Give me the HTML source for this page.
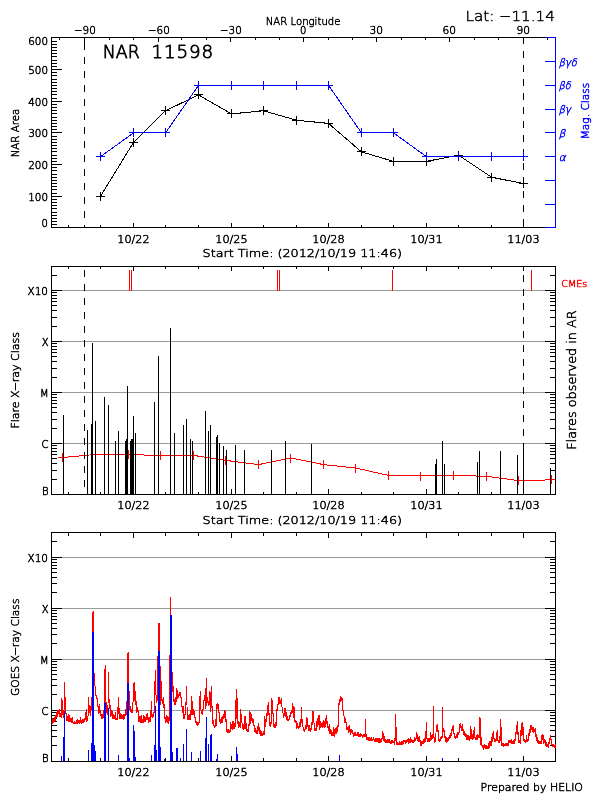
<!DOCTYPE html>
<html lang="en"><head><meta charset="utf-8"><title>NAR 11598</title>
<style>
html,body{margin:0;padding:0;background:#fff;}
svg{display:block}
text{font-family:"DejaVu Sans Light","DejaVu Sans","Liberation Sans",sans-serif;stroke-linejoin:round}
</style></head>
<body>
<svg width="600" height="800" viewBox="0 0 600 800">
<rect x="0" y="0" width="600" height="800" fill="#ffffff"/>
<g shape-rendering="crispEdges">
<rect x="51" y="37" width="495" height="1" fill="#000000"/>
<rect x="545" y="37" width="11" height="1" fill="#0000ff"/>
<rect x="51" y="227" width="505" height="1" fill="#000000"/>
<rect x="51" y="37" width="1" height="191" fill="#000000"/>
<rect x="555" y="37" width="1" height="191" fill="#0000ff"/>
<rect x="51" y="227" width="11" height="1" fill="#000000"/>
<rect x="51" y="224" width="6" height="1" fill="#000000"/>
<rect x="51" y="221" width="6" height="1" fill="#000000"/>
<rect x="51" y="218" width="6" height="1" fill="#000000"/>
<rect x="51" y="215" width="6" height="1" fill="#000000"/>
<rect x="51" y="212" width="6" height="1" fill="#000000"/>
<rect x="51" y="208" width="6" height="1" fill="#000000"/>
<rect x="51" y="205" width="6" height="1" fill="#000000"/>
<rect x="51" y="202" width="6" height="1" fill="#000000"/>
<rect x="51" y="199" width="6" height="1" fill="#000000"/>
<rect x="51" y="196" width="11" height="1" fill="#000000"/>
<rect x="51" y="193" width="6" height="1" fill="#000000"/>
<rect x="51" y="189" width="6" height="1" fill="#000000"/>
<rect x="51" y="186" width="6" height="1" fill="#000000"/>
<rect x="51" y="183" width="6" height="1" fill="#000000"/>
<rect x="51" y="180" width="6" height="1" fill="#000000"/>
<rect x="51" y="177" width="6" height="1" fill="#000000"/>
<rect x="51" y="174" width="6" height="1" fill="#000000"/>
<rect x="51" y="170" width="6" height="1" fill="#000000"/>
<rect x="51" y="167" width="6" height="1" fill="#000000"/>
<rect x="51" y="164" width="11" height="1" fill="#000000"/>
<rect x="51" y="161" width="6" height="1" fill="#000000"/>
<rect x="51" y="158" width="6" height="1" fill="#000000"/>
<rect x="51" y="155" width="6" height="1" fill="#000000"/>
<rect x="51" y="151" width="6" height="1" fill="#000000"/>
<rect x="51" y="148" width="6" height="1" fill="#000000"/>
<rect x="51" y="145" width="6" height="1" fill="#000000"/>
<rect x="51" y="142" width="6" height="1" fill="#000000"/>
<rect x="51" y="139" width="6" height="1" fill="#000000"/>
<rect x="51" y="136" width="6" height="1" fill="#000000"/>
<rect x="51" y="132" width="11" height="1" fill="#000000"/>
<rect x="51" y="129" width="6" height="1" fill="#000000"/>
<rect x="51" y="126" width="6" height="1" fill="#000000"/>
<rect x="51" y="123" width="6" height="1" fill="#000000"/>
<rect x="51" y="120" width="6" height="1" fill="#000000"/>
<rect x="51" y="117" width="6" height="1" fill="#000000"/>
<rect x="51" y="113" width="6" height="1" fill="#000000"/>
<rect x="51" y="110" width="6" height="1" fill="#000000"/>
<rect x="51" y="107" width="6" height="1" fill="#000000"/>
<rect x="51" y="104" width="6" height="1" fill="#000000"/>
<rect x="51" y="101" width="11" height="1" fill="#000000"/>
<rect x="51" y="98" width="6" height="1" fill="#000000"/>
<rect x="51" y="94" width="6" height="1" fill="#000000"/>
<rect x="51" y="91" width="6" height="1" fill="#000000"/>
<rect x="51" y="88" width="6" height="1" fill="#000000"/>
<rect x="51" y="85" width="6" height="1" fill="#000000"/>
<rect x="51" y="82" width="6" height="1" fill="#000000"/>
<rect x="51" y="79" width="6" height="1" fill="#000000"/>
<rect x="51" y="75" width="6" height="1" fill="#000000"/>
<rect x="51" y="72" width="6" height="1" fill="#000000"/>
<rect x="51" y="69" width="11" height="1" fill="#000000"/>
<rect x="51" y="66" width="6" height="1" fill="#000000"/>
<rect x="51" y="63" width="6" height="1" fill="#000000"/>
<rect x="51" y="60" width="6" height="1" fill="#000000"/>
<rect x="51" y="56" width="6" height="1" fill="#000000"/>
<rect x="51" y="53" width="6" height="1" fill="#000000"/>
<rect x="51" y="50" width="6" height="1" fill="#000000"/>
<rect x="51" y="47" width="6" height="1" fill="#000000"/>
<rect x="51" y="44" width="6" height="1" fill="#000000"/>
<rect x="51" y="41" width="6" height="1" fill="#000000"/>
<rect x="51" y="37" width="11" height="1" fill="#000000"/>
<rect x="545" y="227" width="11" height="1" fill="#0000ff"/>
<rect x="545" y="204" width="11" height="1" fill="#0000ff"/>
<rect x="545" y="180" width="11" height="1" fill="#0000ff"/>
<rect x="545" y="156" width="11" height="1" fill="#0000ff"/>
<rect x="545" y="132" width="11" height="1" fill="#0000ff"/>
<rect x="545" y="109" width="11" height="1" fill="#0000ff"/>
<rect x="545" y="85" width="11" height="1" fill="#0000ff"/>
<rect x="545" y="61" width="11" height="1" fill="#0000ff"/>
<rect x="545" y="37" width="11" height="1" fill="#0000ff"/>
<rect x="59" y="37" width="1" height="3" fill="#000000"/>
<rect x="84" y="37" width="1" height="5" fill="#000000"/>
<rect x="109" y="37" width="1" height="3" fill="#000000"/>
<rect x="133" y="37" width="1" height="3" fill="#000000"/>
<rect x="158" y="37" width="1" height="5" fill="#000000"/>
<rect x="181" y="37" width="1" height="3" fill="#000000"/>
<rect x="206" y="37" width="1" height="3" fill="#000000"/>
<rect x="230" y="37" width="1" height="5" fill="#000000"/>
<rect x="255" y="37" width="1" height="3" fill="#000000"/>
<rect x="279" y="37" width="1" height="3" fill="#000000"/>
<rect x="303" y="37" width="1" height="5" fill="#000000"/>
<rect x="328" y="37" width="1" height="3" fill="#000000"/>
<rect x="352" y="37" width="1" height="3" fill="#000000"/>
<rect x="376" y="37" width="1" height="5" fill="#000000"/>
<rect x="401" y="37" width="1" height="3" fill="#000000"/>
<rect x="425" y="37" width="1" height="3" fill="#000000"/>
<rect x="449" y="37" width="1" height="5" fill="#000000"/>
<rect x="474" y="37" width="1" height="3" fill="#000000"/>
<rect x="498" y="37" width="1" height="3" fill="#000000"/>
<rect x="523" y="37" width="1" height="5" fill="#000000"/>
<rect x="547" y="37" width="1" height="3" fill="#000000"/>
<rect x="68" y="225" width="1" height="3" fill="#000000"/>
<rect x="100" y="225" width="1" height="3" fill="#000000"/>
<rect x="133" y="223" width="1" height="5" fill="#000000"/>
<rect x="165" y="225" width="1" height="3" fill="#000000"/>
<rect x="198" y="225" width="1" height="3" fill="#000000"/>
<rect x="231" y="223" width="1" height="5" fill="#000000"/>
<rect x="263" y="225" width="1" height="3" fill="#000000"/>
<rect x="296" y="225" width="1" height="3" fill="#000000"/>
<rect x="328" y="223" width="1" height="5" fill="#000000"/>
<rect x="361" y="225" width="1" height="3" fill="#000000"/>
<rect x="393" y="225" width="1" height="3" fill="#000000"/>
<rect x="426" y="223" width="1" height="5" fill="#000000"/>
<rect x="458" y="225" width="1" height="3" fill="#000000"/>
<rect x="491" y="225" width="1" height="3" fill="#000000"/>
<rect x="523" y="223" width="1" height="5" fill="#000000"/>
<rect x="84" y="43" width="1" height="7" fill="#000000"/>
<rect x="84" y="57" width="1" height="7" fill="#000000"/>
<rect x="84" y="71" width="1" height="7" fill="#000000"/>
<rect x="84" y="85" width="1" height="7" fill="#000000"/>
<rect x="84" y="99" width="1" height="7" fill="#000000"/>
<rect x="84" y="113" width="1" height="7" fill="#000000"/>
<rect x="84" y="127" width="1" height="7" fill="#000000"/>
<rect x="84" y="141" width="1" height="7" fill="#000000"/>
<rect x="84" y="155" width="1" height="7" fill="#000000"/>
<rect x="84" y="169" width="1" height="7" fill="#000000"/>
<rect x="84" y="183" width="1" height="7" fill="#000000"/>
<rect x="84" y="197" width="1" height="7" fill="#000000"/>
<rect x="84" y="211" width="1" height="7" fill="#000000"/>
<rect x="84" y="225" width="1" height="3" fill="#000000"/>
<rect x="523" y="37" width="1" height="7" fill="#000000"/>
<rect x="523" y="51" width="1" height="7" fill="#000000"/>
<rect x="523" y="65" width="1" height="7" fill="#000000"/>
<rect x="523" y="79" width="1" height="7" fill="#000000"/>
<rect x="523" y="93" width="1" height="7" fill="#000000"/>
<rect x="523" y="107" width="1" height="7" fill="#000000"/>
<rect x="523" y="121" width="1" height="7" fill="#000000"/>
<rect x="523" y="135" width="1" height="7" fill="#000000"/>
<rect x="523" y="149" width="1" height="7" fill="#000000"/>
<rect x="523" y="163" width="1" height="7" fill="#000000"/>
<rect x="523" y="177" width="1" height="7" fill="#000000"/>
<rect x="523" y="191" width="1" height="7" fill="#000000"/>
<rect x="523" y="205" width="1" height="7" fill="#000000"/>
<rect x="523" y="219" width="1" height="7" fill="#000000"/>
<rect x="84" y="37" width="1" height="6" fill="#000000"/>
<rect x="523" y="37" width="1" height="6" fill="#000000"/>
<polyline points="100.50,196.23 133.50,142.40 165.50,110.73 198.50,94.90 231.50,113.90 263.50,110.73 296.50,120.23 328.50,123.40 361.50,151.90 393.50,161.40 426.50,161.40 458.50,155.07 491.50,177.23 523.50,183.57" fill="none" stroke="#000000" stroke-width="1"/>
<rect x="96" y="196" width="9" height="1" fill="#000000"/>
<rect x="100" y="192" width="1" height="9" fill="#000000"/>
<rect x="129" y="142" width="9" height="1" fill="#000000"/>
<rect x="133" y="138" width="1" height="9" fill="#000000"/>
<rect x="161" y="110" width="9" height="1" fill="#000000"/>
<rect x="165" y="106" width="1" height="9" fill="#000000"/>
<rect x="194" y="94" width="9" height="1" fill="#000000"/>
<rect x="198" y="90" width="1" height="9" fill="#000000"/>
<rect x="227" y="113" width="9" height="1" fill="#000000"/>
<rect x="231" y="109" width="1" height="9" fill="#000000"/>
<rect x="259" y="110" width="9" height="1" fill="#000000"/>
<rect x="263" y="106" width="1" height="9" fill="#000000"/>
<rect x="292" y="120" width="9" height="1" fill="#000000"/>
<rect x="296" y="116" width="1" height="9" fill="#000000"/>
<rect x="324" y="123" width="9" height="1" fill="#000000"/>
<rect x="328" y="119" width="1" height="9" fill="#000000"/>
<rect x="357" y="151" width="9" height="1" fill="#000000"/>
<rect x="361" y="147" width="1" height="9" fill="#000000"/>
<rect x="389" y="161" width="9" height="1" fill="#000000"/>
<rect x="393" y="157" width="1" height="9" fill="#000000"/>
<rect x="422" y="161" width="9" height="1" fill="#000000"/>
<rect x="426" y="157" width="1" height="9" fill="#000000"/>
<rect x="454" y="155" width="9" height="1" fill="#000000"/>
<rect x="458" y="151" width="1" height="9" fill="#000000"/>
<rect x="487" y="177" width="9" height="1" fill="#000000"/>
<rect x="491" y="173" width="1" height="9" fill="#000000"/>
<rect x="519" y="183" width="9" height="1" fill="#000000"/>
<rect x="523" y="179" width="1" height="9" fill="#000000"/>
<polyline points="100.50,156.65 133.50,132.90 165.50,132.90 198.50,85.40 231.50,85.40 263.50,85.40 296.50,85.40 328.50,85.40 361.50,132.90 393.50,132.90 426.50,156.65 458.50,156.65 491.50,156.65 523.50,156.65" fill="none" stroke="#0000ff" stroke-width="1"/>
<rect x="96" y="156" width="9" height="1" fill="#0000ff"/>
<rect x="100" y="152" width="1" height="9" fill="#0000ff"/>
<rect x="129" y="132" width="9" height="1" fill="#0000ff"/>
<rect x="133" y="128" width="1" height="9" fill="#0000ff"/>
<rect x="161" y="132" width="9" height="1" fill="#0000ff"/>
<rect x="165" y="128" width="1" height="9" fill="#0000ff"/>
<rect x="194" y="85" width="9" height="1" fill="#0000ff"/>
<rect x="198" y="81" width="1" height="9" fill="#0000ff"/>
<rect x="227" y="85" width="9" height="1" fill="#0000ff"/>
<rect x="231" y="81" width="1" height="9" fill="#0000ff"/>
<rect x="259" y="85" width="9" height="1" fill="#0000ff"/>
<rect x="263" y="81" width="1" height="9" fill="#0000ff"/>
<rect x="292" y="85" width="9" height="1" fill="#0000ff"/>
<rect x="296" y="81" width="1" height="9" fill="#0000ff"/>
<rect x="324" y="85" width="9" height="1" fill="#0000ff"/>
<rect x="328" y="81" width="1" height="9" fill="#0000ff"/>
<rect x="357" y="132" width="9" height="1" fill="#0000ff"/>
<rect x="361" y="128" width="1" height="9" fill="#0000ff"/>
<rect x="389" y="132" width="9" height="1" fill="#0000ff"/>
<rect x="393" y="128" width="1" height="9" fill="#0000ff"/>
<rect x="422" y="156" width="9" height="1" fill="#0000ff"/>
<rect x="426" y="152" width="1" height="9" fill="#0000ff"/>
<rect x="454" y="156" width="9" height="1" fill="#0000ff"/>
<rect x="458" y="152" width="1" height="9" fill="#0000ff"/>
<rect x="487" y="156" width="9" height="1" fill="#0000ff"/>
<rect x="491" y="152" width="1" height="9" fill="#0000ff"/>
<rect x="519" y="156" width="9" height="1" fill="#0000ff"/>
<rect x="523" y="152" width="1" height="9" fill="#0000ff"/>
<rect x="51" y="266" width="505" height="1" fill="#000000"/>
<rect x="51" y="494" width="505" height="1" fill="#000000"/>
<rect x="51" y="266" width="1" height="229" fill="#000000"/>
<rect x="555" y="266" width="1" height="229" fill="#000000"/>
<rect x="51" y="479" width="6" height="1" fill="#000000"/>
<rect x="550" y="479" width="6" height="1" fill="#000000"/>
<rect x="51" y="470" width="6" height="1" fill="#000000"/>
<rect x="550" y="470" width="6" height="1" fill="#000000"/>
<rect x="51" y="463" width="6" height="1" fill="#000000"/>
<rect x="550" y="463" width="6" height="1" fill="#000000"/>
<rect x="51" y="458" width="6" height="1" fill="#000000"/>
<rect x="550" y="458" width="6" height="1" fill="#000000"/>
<rect x="51" y="454" width="6" height="1" fill="#000000"/>
<rect x="550" y="454" width="6" height="1" fill="#000000"/>
<rect x="51" y="451" width="6" height="1" fill="#000000"/>
<rect x="550" y="451" width="6" height="1" fill="#000000"/>
<rect x="51" y="448" width="6" height="1" fill="#000000"/>
<rect x="550" y="448" width="6" height="1" fill="#000000"/>
<rect x="51" y="445" width="6" height="1" fill="#000000"/>
<rect x="550" y="445" width="6" height="1" fill="#000000"/>
<rect x="62" y="443" width="483" height="1" fill="#9a9a9a"/>
<rect x="51" y="443" width="11" height="1" fill="#000000"/>
<rect x="545" y="443" width="11" height="1" fill="#000000"/>
<rect x="51" y="428" width="6" height="1" fill="#000000"/>
<rect x="550" y="428" width="6" height="1" fill="#000000"/>
<rect x="51" y="419" width="6" height="1" fill="#000000"/>
<rect x="550" y="419" width="6" height="1" fill="#000000"/>
<rect x="51" y="412" width="6" height="1" fill="#000000"/>
<rect x="550" y="412" width="6" height="1" fill="#000000"/>
<rect x="51" y="407" width="6" height="1" fill="#000000"/>
<rect x="550" y="407" width="6" height="1" fill="#000000"/>
<rect x="51" y="403" width="6" height="1" fill="#000000"/>
<rect x="550" y="403" width="6" height="1" fill="#000000"/>
<rect x="51" y="400" width="6" height="1" fill="#000000"/>
<rect x="550" y="400" width="6" height="1" fill="#000000"/>
<rect x="51" y="397" width="6" height="1" fill="#000000"/>
<rect x="550" y="397" width="6" height="1" fill="#000000"/>
<rect x="51" y="394" width="6" height="1" fill="#000000"/>
<rect x="550" y="394" width="6" height="1" fill="#000000"/>
<rect x="62" y="392" width="483" height="1" fill="#9a9a9a"/>
<rect x="51" y="392" width="11" height="1" fill="#000000"/>
<rect x="545" y="392" width="11" height="1" fill="#000000"/>
<rect x="51" y="377" width="6" height="1" fill="#000000"/>
<rect x="550" y="377" width="6" height="1" fill="#000000"/>
<rect x="51" y="368" width="6" height="1" fill="#000000"/>
<rect x="550" y="368" width="6" height="1" fill="#000000"/>
<rect x="51" y="361" width="6" height="1" fill="#000000"/>
<rect x="550" y="361" width="6" height="1" fill="#000000"/>
<rect x="51" y="356" width="6" height="1" fill="#000000"/>
<rect x="550" y="356" width="6" height="1" fill="#000000"/>
<rect x="51" y="352" width="6" height="1" fill="#000000"/>
<rect x="550" y="352" width="6" height="1" fill="#000000"/>
<rect x="51" y="349" width="6" height="1" fill="#000000"/>
<rect x="550" y="349" width="6" height="1" fill="#000000"/>
<rect x="51" y="346" width="6" height="1" fill="#000000"/>
<rect x="550" y="346" width="6" height="1" fill="#000000"/>
<rect x="51" y="343" width="6" height="1" fill="#000000"/>
<rect x="550" y="343" width="6" height="1" fill="#000000"/>
<rect x="62" y="341" width="483" height="1" fill="#9a9a9a"/>
<rect x="51" y="341" width="11" height="1" fill="#000000"/>
<rect x="545" y="341" width="11" height="1" fill="#000000"/>
<rect x="51" y="326" width="6" height="1" fill="#000000"/>
<rect x="550" y="326" width="6" height="1" fill="#000000"/>
<rect x="51" y="317" width="6" height="1" fill="#000000"/>
<rect x="550" y="317" width="6" height="1" fill="#000000"/>
<rect x="51" y="310" width="6" height="1" fill="#000000"/>
<rect x="550" y="310" width="6" height="1" fill="#000000"/>
<rect x="51" y="305" width="6" height="1" fill="#000000"/>
<rect x="550" y="305" width="6" height="1" fill="#000000"/>
<rect x="51" y="301" width="6" height="1" fill="#000000"/>
<rect x="550" y="301" width="6" height="1" fill="#000000"/>
<rect x="51" y="298" width="6" height="1" fill="#000000"/>
<rect x="550" y="298" width="6" height="1" fill="#000000"/>
<rect x="51" y="295" width="6" height="1" fill="#000000"/>
<rect x="550" y="295" width="6" height="1" fill="#000000"/>
<rect x="51" y="292" width="6" height="1" fill="#000000"/>
<rect x="550" y="292" width="6" height="1" fill="#000000"/>
<rect x="62" y="290" width="483" height="1" fill="#9a9a9a"/>
<rect x="51" y="290" width="11" height="1" fill="#000000"/>
<rect x="545" y="290" width="11" height="1" fill="#000000"/>
<rect x="51" y="275" width="6" height="1" fill="#000000"/>
<rect x="550" y="275" width="6" height="1" fill="#000000"/>
<rect x="68" y="492" width="1" height="3" fill="#000000"/>
<rect x="68" y="266" width="1" height="3" fill="#000000"/>
<rect x="100" y="492" width="1" height="3" fill="#000000"/>
<rect x="100" y="266" width="1" height="3" fill="#000000"/>
<rect x="133" y="489" width="1" height="6" fill="#000000"/>
<rect x="133" y="266" width="1" height="5" fill="#000000"/>
<rect x="165" y="492" width="1" height="3" fill="#000000"/>
<rect x="165" y="266" width="1" height="3" fill="#000000"/>
<rect x="198" y="492" width="1" height="3" fill="#000000"/>
<rect x="198" y="266" width="1" height="3" fill="#000000"/>
<rect x="231" y="489" width="1" height="6" fill="#000000"/>
<rect x="231" y="266" width="1" height="5" fill="#000000"/>
<rect x="263" y="492" width="1" height="3" fill="#000000"/>
<rect x="263" y="266" width="1" height="3" fill="#000000"/>
<rect x="296" y="492" width="1" height="3" fill="#000000"/>
<rect x="296" y="266" width="1" height="3" fill="#000000"/>
<rect x="328" y="489" width="1" height="6" fill="#000000"/>
<rect x="328" y="266" width="1" height="5" fill="#000000"/>
<rect x="361" y="492" width="1" height="3" fill="#000000"/>
<rect x="361" y="266" width="1" height="3" fill="#000000"/>
<rect x="393" y="492" width="1" height="3" fill="#000000"/>
<rect x="393" y="266" width="1" height="3" fill="#000000"/>
<rect x="426" y="489" width="1" height="6" fill="#000000"/>
<rect x="426" y="266" width="1" height="5" fill="#000000"/>
<rect x="458" y="492" width="1" height="3" fill="#000000"/>
<rect x="458" y="266" width="1" height="3" fill="#000000"/>
<rect x="491" y="492" width="1" height="3" fill="#000000"/>
<rect x="491" y="266" width="1" height="3" fill="#000000"/>
<rect x="523" y="489" width="1" height="6" fill="#000000"/>
<rect x="523" y="266" width="1" height="5" fill="#000000"/>
<polyline points="58.00,457.90 95.40,454.47 128.00,454.50 143.40,454.50 144.40,455.50 160.50,455.50 193.50,455.50 196.80,455.90 225.80,460.40 258.60,464.60 290.80,458.00 323.50,464.60 355.80,468.00 388.40,475.40 420.60,476.00 453.50,475.60 486.00,476.20 518.40,480.60 534.70,480.60 551.60,479.60 555.00,479.60" fill="none" stroke="#ff0000" stroke-width="1"/>
<rect x="62" y="453" width="1" height="9" fill="#ff0000"/>
<rect x="95" y="450" width="1" height="9" fill="#ff0000"/>
<rect x="128" y="450" width="1" height="9" fill="#ff0000"/>
<rect x="160" y="451" width="1" height="9" fill="#ff0000"/>
<rect x="193" y="451" width="1" height="9" fill="#ff0000"/>
<rect x="225" y="456" width="1" height="9" fill="#ff0000"/>
<rect x="258" y="460" width="1" height="9" fill="#ff0000"/>
<rect x="290" y="454" width="1" height="9" fill="#ff0000"/>
<rect x="323" y="460" width="1" height="9" fill="#ff0000"/>
<rect x="355" y="464" width="1" height="9" fill="#ff0000"/>
<rect x="388" y="471" width="1" height="9" fill="#ff0000"/>
<rect x="420" y="472" width="1" height="9" fill="#ff0000"/>
<rect x="453" y="471" width="1" height="9" fill="#ff0000"/>
<rect x="486" y="472" width="1" height="9" fill="#ff0000"/>
<rect x="518" y="476" width="1" height="9" fill="#ff0000"/>
<rect x="551" y="475" width="1" height="9" fill="#ff0000"/>
<rect x="129" y="270" width="1" height="21" fill="#ff0000"/>
<rect x="131" y="270" width="1" height="21" fill="#ff0000"/>
<rect x="277" y="270" width="1" height="21" fill="#ff0000"/>
<rect x="279" y="270" width="1" height="21" fill="#ff0000"/>
<rect x="392" y="270" width="1" height="21" fill="#ff0000"/>
<rect x="531" y="270" width="1" height="21" fill="#ff0000"/>
<rect x="84" y="270" width="1" height="7" fill="#000000"/>
<rect x="84" y="284" width="1" height="7" fill="#000000"/>
<rect x="84" y="298" width="1" height="7" fill="#000000"/>
<rect x="84" y="312" width="1" height="7" fill="#000000"/>
<rect x="84" y="326" width="1" height="7" fill="#000000"/>
<rect x="84" y="340" width="1" height="7" fill="#000000"/>
<rect x="84" y="354" width="1" height="7" fill="#000000"/>
<rect x="84" y="368" width="1" height="7" fill="#000000"/>
<rect x="84" y="382" width="1" height="7" fill="#000000"/>
<rect x="84" y="396" width="1" height="7" fill="#000000"/>
<rect x="84" y="410" width="1" height="7" fill="#000000"/>
<rect x="84" y="424" width="1" height="7" fill="#000000"/>
<rect x="84" y="438" width="1" height="7" fill="#000000"/>
<rect x="84" y="452" width="1" height="7" fill="#000000"/>
<rect x="84" y="466" width="1" height="7" fill="#000000"/>
<rect x="84" y="480" width="1" height="7" fill="#000000"/>
<rect x="84" y="494" width="1" height="1" fill="#000000"/>
<rect x="523" y="275" width="1" height="7" fill="#000000"/>
<rect x="523" y="289" width="1" height="7" fill="#000000"/>
<rect x="523" y="303" width="1" height="7" fill="#000000"/>
<rect x="523" y="317" width="1" height="7" fill="#000000"/>
<rect x="523" y="331" width="1" height="7" fill="#000000"/>
<rect x="523" y="345" width="1" height="7" fill="#000000"/>
<rect x="523" y="359" width="1" height="7" fill="#000000"/>
<rect x="523" y="373" width="1" height="7" fill="#000000"/>
<rect x="523" y="387" width="1" height="7" fill="#000000"/>
<rect x="523" y="401" width="1" height="7" fill="#000000"/>
<rect x="523" y="415" width="1" height="7" fill="#000000"/>
<rect x="523" y="429" width="1" height="7" fill="#000000"/>
<rect x="523" y="443" width="1" height="7" fill="#000000"/>
<rect x="523" y="457" width="1" height="7" fill="#000000"/>
<rect x="523" y="471" width="1" height="7" fill="#000000"/>
<rect x="523" y="485" width="1" height="7" fill="#000000"/>
<rect x="63" y="415" width="1" height="80" fill="#000000"/>
<rect x="87" y="430" width="1" height="65" fill="#000000"/>
<rect x="91" y="424" width="1" height="71" fill="#000000"/>
<rect x="92" y="343" width="1" height="152" fill="#000000"/>
<rect x="95" y="421" width="1" height="74" fill="#000000"/>
<rect x="104" y="397" width="1" height="98" fill="#000000"/>
<rect x="108" y="405" width="1" height="90" fill="#000000"/>
<rect x="115" y="441" width="1" height="54" fill="#000000"/>
<rect x="118" y="431" width="1" height="64" fill="#000000"/>
<rect x="125" y="441" width="1" height="54" fill="#000000"/>
<rect x="126" y="439" width="1" height="56" fill="#000000"/>
<rect x="127" y="386" width="1" height="109" fill="#000000"/>
<rect x="130" y="441" width="1" height="54" fill="#000000"/>
<rect x="131" y="439" width="1" height="56" fill="#000000"/>
<rect x="132" y="439" width="1" height="56" fill="#000000"/>
<rect x="133" y="416" width="1" height="79" fill="#000000"/>
<rect x="135" y="433" width="1" height="62" fill="#000000"/>
<rect x="154" y="402" width="1" height="93" fill="#000000"/>
<rect x="158" y="356" width="1" height="139" fill="#000000"/>
<rect x="170" y="328" width="1" height="167" fill="#000000"/>
<rect x="174" y="433" width="1" height="62" fill="#000000"/>
<rect x="183" y="425" width="1" height="70" fill="#000000"/>
<rect x="186" y="419" width="1" height="76" fill="#000000"/>
<rect x="190" y="439" width="1" height="56" fill="#000000"/>
<rect x="192" y="441" width="1" height="54" fill="#000000"/>
<rect x="205" y="411" width="1" height="84" fill="#000000"/>
<rect x="208" y="431" width="1" height="64" fill="#000000"/>
<rect x="210" y="425" width="1" height="70" fill="#000000"/>
<rect x="216" y="437" width="1" height="58" fill="#000000"/>
<rect x="217" y="435" width="1" height="60" fill="#000000"/>
<rect x="219" y="443" width="1" height="52" fill="#000000"/>
<rect x="223" y="446" width="1" height="49" fill="#000000"/>
<rect x="226" y="450" width="1" height="45" fill="#000000"/>
<rect x="235" y="445" width="1" height="50" fill="#000000"/>
<rect x="244" y="450" width="1" height="45" fill="#000000"/>
<rect x="271" y="450" width="1" height="45" fill="#000000"/>
<rect x="285" y="441" width="1" height="54" fill="#000000"/>
<rect x="311" y="444" width="1" height="51" fill="#000000"/>
<rect x="435" y="464" width="1" height="31" fill="#000000"/>
<rect x="436" y="459" width="1" height="36" fill="#000000"/>
<rect x="442" y="441" width="1" height="54" fill="#000000"/>
<rect x="444" y="464" width="1" height="31" fill="#000000"/>
<rect x="477" y="462" width="1" height="33" fill="#000000"/>
<rect x="479" y="451" width="1" height="44" fill="#000000"/>
<rect x="500" y="451" width="1" height="44" fill="#000000"/>
<rect x="517" y="455" width="1" height="40" fill="#000000"/>
<rect x="523" y="450" width="1" height="45" fill="#000000"/>
<rect x="550" y="468" width="1" height="27" fill="#000000"/>
<rect x="51" y="532" width="505" height="1" fill="#000000"/>
<rect x="51" y="761" width="505" height="1" fill="#000000"/>
<rect x="51" y="532" width="1" height="230" fill="#000000"/>
<rect x="555" y="532" width="1" height="230" fill="#000000"/>
<rect x="51" y="745" width="6" height="1" fill="#000000"/>
<rect x="550" y="745" width="6" height="1" fill="#000000"/>
<rect x="51" y="736" width="6" height="1" fill="#000000"/>
<rect x="550" y="736" width="6" height="1" fill="#000000"/>
<rect x="51" y="730" width="6" height="1" fill="#000000"/>
<rect x="550" y="730" width="6" height="1" fill="#000000"/>
<rect x="51" y="725" width="6" height="1" fill="#000000"/>
<rect x="550" y="725" width="6" height="1" fill="#000000"/>
<rect x="51" y="721" width="6" height="1" fill="#000000"/>
<rect x="550" y="721" width="6" height="1" fill="#000000"/>
<rect x="51" y="718" width="6" height="1" fill="#000000"/>
<rect x="550" y="718" width="6" height="1" fill="#000000"/>
<rect x="51" y="715" width="6" height="1" fill="#000000"/>
<rect x="550" y="715" width="6" height="1" fill="#000000"/>
<rect x="51" y="712" width="6" height="1" fill="#000000"/>
<rect x="550" y="712" width="6" height="1" fill="#000000"/>
<rect x="62" y="710" width="483" height="1" fill="#9a9a9a"/>
<rect x="51" y="710" width="11" height="1" fill="#000000"/>
<rect x="545" y="710" width="11" height="1" fill="#000000"/>
<rect x="51" y="694" width="6" height="1" fill="#000000"/>
<rect x="550" y="694" width="6" height="1" fill="#000000"/>
<rect x="51" y="685" width="6" height="1" fill="#000000"/>
<rect x="550" y="685" width="6" height="1" fill="#000000"/>
<rect x="51" y="679" width="6" height="1" fill="#000000"/>
<rect x="550" y="679" width="6" height="1" fill="#000000"/>
<rect x="51" y="674" width="6" height="1" fill="#000000"/>
<rect x="550" y="674" width="6" height="1" fill="#000000"/>
<rect x="51" y="670" width="6" height="1" fill="#000000"/>
<rect x="550" y="670" width="6" height="1" fill="#000000"/>
<rect x="51" y="667" width="6" height="1" fill="#000000"/>
<rect x="550" y="667" width="6" height="1" fill="#000000"/>
<rect x="51" y="664" width="6" height="1" fill="#000000"/>
<rect x="550" y="664" width="6" height="1" fill="#000000"/>
<rect x="51" y="661" width="6" height="1" fill="#000000"/>
<rect x="550" y="661" width="6" height="1" fill="#000000"/>
<rect x="62" y="659" width="483" height="1" fill="#9a9a9a"/>
<rect x="51" y="659" width="11" height="1" fill="#000000"/>
<rect x="545" y="659" width="11" height="1" fill="#000000"/>
<rect x="51" y="643" width="6" height="1" fill="#000000"/>
<rect x="550" y="643" width="6" height="1" fill="#000000"/>
<rect x="51" y="634" width="6" height="1" fill="#000000"/>
<rect x="550" y="634" width="6" height="1" fill="#000000"/>
<rect x="51" y="628" width="6" height="1" fill="#000000"/>
<rect x="550" y="628" width="6" height="1" fill="#000000"/>
<rect x="51" y="623" width="6" height="1" fill="#000000"/>
<rect x="550" y="623" width="6" height="1" fill="#000000"/>
<rect x="51" y="619" width="6" height="1" fill="#000000"/>
<rect x="550" y="619" width="6" height="1" fill="#000000"/>
<rect x="51" y="616" width="6" height="1" fill="#000000"/>
<rect x="550" y="616" width="6" height="1" fill="#000000"/>
<rect x="51" y="613" width="6" height="1" fill="#000000"/>
<rect x="550" y="613" width="6" height="1" fill="#000000"/>
<rect x="51" y="610" width="6" height="1" fill="#000000"/>
<rect x="550" y="610" width="6" height="1" fill="#000000"/>
<rect x="62" y="608" width="483" height="1" fill="#9a9a9a"/>
<rect x="51" y="608" width="11" height="1" fill="#000000"/>
<rect x="545" y="608" width="11" height="1" fill="#000000"/>
<rect x="51" y="592" width="6" height="1" fill="#000000"/>
<rect x="550" y="592" width="6" height="1" fill="#000000"/>
<rect x="51" y="583" width="6" height="1" fill="#000000"/>
<rect x="550" y="583" width="6" height="1" fill="#000000"/>
<rect x="51" y="577" width="6" height="1" fill="#000000"/>
<rect x="550" y="577" width="6" height="1" fill="#000000"/>
<rect x="51" y="572" width="6" height="1" fill="#000000"/>
<rect x="550" y="572" width="6" height="1" fill="#000000"/>
<rect x="51" y="568" width="6" height="1" fill="#000000"/>
<rect x="550" y="568" width="6" height="1" fill="#000000"/>
<rect x="51" y="565" width="6" height="1" fill="#000000"/>
<rect x="550" y="565" width="6" height="1" fill="#000000"/>
<rect x="51" y="562" width="6" height="1" fill="#000000"/>
<rect x="550" y="562" width="6" height="1" fill="#000000"/>
<rect x="51" y="559" width="6" height="1" fill="#000000"/>
<rect x="550" y="559" width="6" height="1" fill="#000000"/>
<rect x="62" y="557" width="483" height="1" fill="#9a9a9a"/>
<rect x="51" y="557" width="11" height="1" fill="#000000"/>
<rect x="545" y="557" width="11" height="1" fill="#000000"/>
<rect x="51" y="541" width="6" height="1" fill="#000000"/>
<rect x="550" y="541" width="6" height="1" fill="#000000"/>
<rect x="68" y="758" width="1" height="4" fill="#000000"/>
<rect x="68" y="532" width="1" height="4" fill="#000000"/>
<rect x="100" y="758" width="1" height="4" fill="#000000"/>
<rect x="100" y="532" width="1" height="4" fill="#000000"/>
<rect x="133" y="756" width="1" height="6" fill="#000000"/>
<rect x="133" y="532" width="1" height="6" fill="#000000"/>
<rect x="165" y="758" width="1" height="4" fill="#000000"/>
<rect x="165" y="532" width="1" height="4" fill="#000000"/>
<rect x="198" y="758" width="1" height="4" fill="#000000"/>
<rect x="198" y="532" width="1" height="4" fill="#000000"/>
<rect x="231" y="756" width="1" height="6" fill="#000000"/>
<rect x="231" y="532" width="1" height="6" fill="#000000"/>
<rect x="263" y="758" width="1" height="4" fill="#000000"/>
<rect x="263" y="532" width="1" height="4" fill="#000000"/>
<rect x="296" y="758" width="1" height="4" fill="#000000"/>
<rect x="296" y="532" width="1" height="4" fill="#000000"/>
<rect x="328" y="756" width="1" height="6" fill="#000000"/>
<rect x="328" y="532" width="1" height="6" fill="#000000"/>
<rect x="361" y="758" width="1" height="4" fill="#000000"/>
<rect x="361" y="532" width="1" height="4" fill="#000000"/>
<rect x="393" y="758" width="1" height="4" fill="#000000"/>
<rect x="393" y="532" width="1" height="4" fill="#000000"/>
<rect x="426" y="756" width="1" height="6" fill="#000000"/>
<rect x="426" y="532" width="1" height="6" fill="#000000"/>
<rect x="458" y="758" width="1" height="4" fill="#000000"/>
<rect x="458" y="532" width="1" height="4" fill="#000000"/>
<rect x="491" y="758" width="1" height="4" fill="#000000"/>
<rect x="491" y="532" width="1" height="4" fill="#000000"/>
<rect x="523" y="756" width="1" height="6" fill="#000000"/>
<rect x="523" y="532" width="1" height="6" fill="#000000"/>
<polyline points="51.50,721.90 51.62,722.93 51.75,722.33 51.88,722.79 52.00,722.49 52.12,722.97 52.25,722.52 52.38,722.87 52.50,722.62 52.62,722.01 52.75,717.64 52.88,722.52 53.00,720.89 53.12,722.44 53.25,721.90 53.38,722.52 53.50,721.22 53.62,719.00 53.75,720.14 53.88,722.20 54.00,718.87 54.12,721.58 54.25,721.65 54.38,718.89 54.50,718.99 54.62,718.72 54.75,720.40 54.88,717.51 55.00,717.00 55.12,715.79 55.25,721.10 55.38,719.57 55.50,718.11 55.62,716.84 55.75,721.35 55.88,717.82 56.00,714.86 56.12,716.63 56.25,718.14 56.38,716.73 56.50,717.41 56.62,716.08 56.75,715.34 56.88,711.74 57.00,713.18 57.12,710.02 57.25,712.22 57.38,717.36 57.50,717.01 57.62,716.42 57.75,714.45 57.88,714.20 58.00,712.40 58.12,713.24 58.25,711.39 58.38,710.34 58.50,711.29 58.62,711.45 58.75,712.95 58.88,712.40 59.00,714.17 59.12,715.45 59.25,710.40 59.38,712.80 59.50,709.47 59.62,712.27 59.75,711.33 59.88,717.00 60.00,714.63 60.12,715.81 60.25,717.19 60.38,715.55 60.50,716.55 60.62,713.24 60.75,716.82 60.88,715.85 61.00,717.21 61.12,717.15 61.25,717.07 61.38,708.35 61.50,708.91 61.62,717.60 61.75,701.58 61.88,704.59 62.00,697.61 62.12,708.74 62.25,704.81 62.38,709.38 62.50,714.66 62.62,713.16 62.75,711.64 62.88,715.02 63.00,715.28 63.12,713.54 63.25,717.01 63.38,714.82 63.50,716.47 63.62,717.57 63.75,710.09 63.88,712.75 64.00,713.93 64.12,696.75 64.25,699.03 64.38,687.54 64.50,687.27 64.62,696.51 64.70,681.83 64.75,685.26 64.88,684.02 65.00,693.58 65.12,710.24 65.25,697.52 65.38,702.15 65.50,712.73 65.62,710.40 65.75,713.48 65.88,710.23 66.00,713.66 66.12,717.65 66.25,713.47 66.38,720.85 66.50,717.14 66.62,717.85 66.75,716.36 66.88,718.57 67.00,715.87 67.12,716.66 67.25,721.32 67.38,719.33 67.50,717.69 67.62,718.14 67.75,715.58 67.88,721.47 68.00,718.81 68.12,716.41 68.25,721.98 68.38,716.99 68.50,718.38 68.62,715.03 68.75,714.94 68.88,718.04 69.00,717.49 69.12,716.31 69.25,722.36 69.38,720.39 69.50,715.37 69.62,715.46 69.75,718.83 69.88,719.10 70.00,719.03 70.12,720.21 70.25,718.82 70.38,718.70 70.50,721.03 70.62,719.27 70.75,722.10 70.88,720.80 71.00,719.63 71.12,717.99 71.25,719.86 71.38,717.84 71.50,720.81 71.62,722.03 71.75,722.71 71.88,721.10 72.00,722.61 72.12,721.41 72.25,722.75 72.38,716.81 72.50,721.45 72.62,723.19 72.75,722.85 72.88,720.28 73.00,723.39 73.12,722.66 73.25,722.78 73.38,722.76 73.50,723.45 73.62,723.03 73.75,723.02 73.88,721.72 74.00,723.10 74.12,721.13 74.25,721.47 74.38,720.65 74.50,722.96 74.62,723.47 74.75,723.58 74.88,722.04 75.00,722.36 75.12,723.26 75.25,722.86 75.38,723.05 75.50,721.65 75.62,723.02 75.75,723.01 75.88,722.92 76.00,723.13 76.12,723.08 76.25,720.46 76.38,720.95 76.50,723.49 76.62,721.24 76.75,723.12 76.88,723.12 77.00,723.57 77.12,722.40 77.25,719.25 77.38,723.04 77.50,722.48 77.62,722.82 77.75,723.58 77.88,722.96 78.00,722.50 78.12,720.44 78.25,722.24 78.38,723.12 78.50,721.45 78.62,721.36 78.75,722.57 78.88,720.69 79.00,723.22 79.12,722.63 79.25,723.00 79.38,722.83 79.50,723.54 79.62,721.53 79.75,720.49 79.88,722.93 80.00,720.60 80.12,719.27 80.25,720.68 80.38,720.70 80.50,720.79 80.62,717.44 80.75,721.15 80.88,722.94 81.00,721.86 81.12,720.01 81.25,722.29 81.38,723.51 81.50,723.14 81.62,722.78 81.75,723.17 81.88,722.83 82.00,722.81 82.12,721.78 82.25,719.14 82.38,721.74 82.50,720.85 82.62,719.12 82.75,719.85 82.88,720.06 83.00,720.14 83.12,720.34 83.25,722.51 83.38,719.89 83.50,720.96 83.62,721.86 83.75,719.04 83.88,721.58 84.00,720.42 84.12,722.36 84.25,721.19 84.38,722.40 84.50,721.66 84.62,721.77 84.75,720.91 84.88,718.39 85.00,719.47 85.12,719.81 85.25,717.42 85.38,718.84 85.50,715.85 85.62,713.18 85.75,713.69 85.88,711.72 86.00,712.45 86.12,708.68 86.25,714.02 86.38,718.41 86.50,714.38 86.62,718.51 86.75,721.35 86.88,721.92 87.00,720.81 87.12,720.58 87.25,721.40 87.38,716.79 87.50,715.57 87.62,719.29 87.75,715.57 87.88,721.01 88.00,716.29 88.12,710.89 88.25,708.64 88.38,708.25 88.50,714.65 88.62,697.91 88.70,697.11 88.75,698.67 88.88,702.41 89.00,708.09 89.12,706.40 89.25,710.58 89.38,705.51 89.50,711.48 89.62,711.06 89.75,712.93 89.88,711.69 90.00,712.18 90.12,712.55 90.25,714.12 90.38,714.35 90.50,713.19 90.62,709.81 90.75,709.23 90.88,709.75 91.00,706.39 91.12,708.40 91.25,709.68 91.38,706.85 91.50,707.33 91.62,707.67 91.75,707.00 91.88,697.40 92.00,700.59 92.12,692.36 92.25,704.08 92.38,693.05 92.50,680.30 92.62,655.16 92.75,649.96 92.88,657.72 93.00,612.25 93.10,611.20 93.12,610.92 93.25,630.94 93.38,624.92 93.50,612.96 93.62,631.60 93.75,673.78 93.88,658.38 93.95,675.02 94.00,671.09 94.12,680.13 94.25,677.15 94.38,683.64 94.50,679.73 94.62,682.53 94.75,683.19 94.80,683.16 94.88,683.17 95.00,686.26 95.12,687.27 95.25,690.30 95.38,696.39 95.50,688.02 95.62,691.79 95.75,695.61 95.88,692.21 96.00,695.84 96.12,697.04 96.25,695.34 96.38,695.84 96.50,698.31 96.62,695.78 96.75,698.86 96.88,699.36 97.00,698.00 97.12,699.27 97.25,700.70 97.38,703.42 97.50,705.41 97.62,700.25 97.75,706.66 97.88,707.02 98.00,706.44 98.12,706.94 98.25,707.79 98.38,708.31 98.50,711.88 98.62,708.67 98.75,712.78 98.88,713.96 99.00,712.63 99.12,712.92 99.25,704.55 99.38,705.82 99.50,709.71 99.62,709.54 99.75,710.31 99.88,711.80 100.00,710.94 100.12,711.35 100.25,710.88 100.38,710.44 100.50,714.87 100.62,712.99 100.75,713.66 100.88,716.40 101.00,715.44 101.12,714.07 101.25,715.84 101.38,717.68 101.50,715.78 101.62,717.97 101.75,717.90 101.88,718.09 102.00,716.80 102.12,718.00 102.25,718.19 102.38,714.18 102.50,717.37 102.62,718.01 102.75,718.43 102.88,717.80 103.00,718.26 103.12,717.88 103.25,715.51 103.38,716.13 103.50,715.87 103.62,716.80 103.75,713.71 103.88,709.86 104.00,713.59 104.12,701.43 104.25,714.02 104.38,714.80 104.50,703.55 104.62,701.65 104.75,705.64 104.88,669.23 105.00,673.33 105.12,691.33 105.25,698.37 105.30,665.45 105.38,693.31 105.50,666.46 105.62,667.65 105.75,708.88 105.88,680.82 106.00,704.28 106.12,702.33 106.25,713.42 106.30,707.22 106.38,708.43 106.50,707.08 106.62,712.43 106.75,712.61 106.88,710.33 107.00,712.05 107.12,712.96 107.25,715.12 107.38,712.52 107.40,713.06 107.50,712.36 107.62,709.29 107.75,710.37 107.88,704.70 108.00,709.76 108.12,683.36 108.25,680.71 108.38,678.24 108.40,672.15 108.50,689.86 108.62,685.16 108.75,700.69 108.88,675.59 109.00,701.61 109.12,699.00 109.25,699.22 109.38,703.28 109.40,702.68 109.50,706.06 109.62,702.71 109.75,709.06 109.88,705.34 110.00,708.66 110.12,704.54 110.25,706.84 110.38,709.26 110.50,710.77 110.62,710.46 110.75,709.12 110.88,716.54 111.00,711.86 111.12,710.44 111.25,713.06 111.38,714.80 111.50,713.45 111.62,716.28 111.75,714.75 111.88,715.03 112.00,715.43 112.12,719.05 112.25,710.65 112.38,716.61 112.50,713.43 112.62,713.44 112.75,715.67 112.88,717.24 113.00,713.86 113.12,718.10 113.25,716.18 113.38,717.50 113.50,717.61 113.62,717.39 113.75,713.74 113.88,718.96 114.00,716.23 114.12,716.61 114.25,716.36 114.38,717.94 114.50,715.45 114.62,714.68 114.75,718.14 114.88,719.02 115.00,718.12 115.12,715.63 115.25,712.13 115.38,717.93 115.50,719.02 115.62,718.74 115.75,718.94 115.88,719.24 116.00,719.49 116.12,719.07 116.25,718.71 116.38,717.66 116.50,719.15 116.62,719.34 116.75,719.50 116.88,719.37 117.00,719.27 117.12,719.59 117.25,719.04 117.38,719.34 117.50,717.10 117.62,718.81 117.75,719.18 117.88,706.97 118.00,712.81 118.12,707.45 118.25,701.52 118.38,698.33 118.50,697.43 118.62,704.78 118.75,713.00 118.88,714.18 119.00,713.49 119.12,712.36 119.25,708.08 119.38,714.38 119.50,716.76 119.62,715.25 119.75,719.01 119.88,715.51 120.00,718.74 120.12,717.60 120.25,713.30 120.38,715.30 120.50,717.49 120.62,715.77 120.75,716.22 120.88,715.75 121.00,717.41 121.12,718.29 121.25,715.25 121.38,716.89 121.50,714.01 121.62,714.56 121.75,718.17 121.88,718.29 122.00,716.13 122.12,718.93 122.25,715.42 122.38,717.73 122.50,716.40 122.62,718.07 122.75,719.03 122.88,716.03 123.00,719.30 123.12,715.88 123.25,719.47 123.38,714.24 123.50,719.02 123.62,719.16 123.75,713.69 123.88,715.20 124.00,714.11 124.12,717.07 124.25,714.39 124.38,718.49 124.50,717.32 124.62,717.55 124.75,718.09 124.88,716.66 125.00,715.01 125.12,716.15 125.25,715.74 125.38,712.24 125.50,714.50 125.62,715.12 125.75,716.21 125.88,709.00 126.00,714.59 126.12,714.18 126.25,712.73 126.38,715.08 126.50,713.93 126.62,711.87 126.75,711.12 126.88,706.22 127.00,700.70 127.12,701.53 127.25,705.80 127.30,701.03 127.38,688.32 127.50,687.80 127.62,682.23 127.75,668.05 127.88,652.55 128.00,685.46 128.10,652.37 128.12,686.02 128.25,659.39 128.38,683.34 128.50,675.25 128.62,691.82 128.75,676.25 128.88,697.53 129.00,691.10 129.12,692.34 129.25,706.43 129.38,701.12 129.50,706.96 129.62,699.84 129.75,710.08 129.88,707.16 130.00,706.88 130.12,705.96 130.25,709.76 130.38,710.41 130.50,709.71 130.62,708.90 130.75,709.92 130.88,712.33 131.00,709.68 131.12,712.27 131.25,712.42 131.38,711.36 131.50,712.99 131.62,709.41 131.75,708.61 131.88,712.84 132.00,711.68 132.12,712.41 132.25,711.48 132.38,713.31 132.50,711.10 132.62,707.00 132.75,710.37 132.88,709.53 133.00,702.05 133.12,701.66 133.25,693.11 133.38,687.84 133.50,697.60 133.62,687.02 133.75,687.99 133.80,683.08 133.88,682.59 134.00,683.76 134.12,682.26 134.25,683.47 134.38,684.03 134.50,682.84 134.62,685.50 134.75,685.73 134.88,684.83 134.90,685.18 135.00,701.20 135.12,695.35 135.25,691.43 135.38,699.66 135.50,701.55 135.62,699.41 135.75,700.98 135.88,705.05 136.00,702.03 136.12,700.82 136.25,702.83 136.38,708.66 136.50,712.56 136.62,705.77 136.75,706.76 136.88,710.69 137.00,711.47 137.12,710.16 137.25,709.40 137.38,712.06 137.50,711.49 137.62,711.47 137.75,708.21 137.88,706.90 138.00,712.25 138.12,710.19 138.25,710.16 138.38,714.86 138.50,715.72 138.62,718.58 138.75,715.23 138.88,721.65 139.00,719.07 139.12,716.22 139.25,721.38 139.38,720.42 139.50,720.91 139.62,719.88 139.75,719.52 139.88,718.90 140.00,721.88 140.12,722.22 140.25,722.20 140.38,721.83 140.50,722.36 140.62,722.13 140.75,722.42 140.88,715.56 141.00,718.12 141.12,715.02 141.25,715.52 141.38,721.82 141.50,721.99 141.62,716.84 141.75,721.84 141.88,722.04 142.00,721.96 142.12,721.88 142.25,721.64 142.38,721.80 142.50,721.98 142.62,722.24 142.75,722.50 142.88,719.19 143.00,721.90 143.12,722.18 143.25,722.31 143.38,720.28 143.50,715.37 143.62,718.52 143.75,722.05 143.88,722.58 144.00,720.72 144.12,716.21 144.25,722.38 144.38,716.81 144.50,719.87 144.62,721.52 144.75,721.93 144.88,722.32 145.00,717.85 145.12,719.70 145.25,721.61 145.38,717.88 145.50,722.02 145.62,719.62 145.75,716.92 145.88,721.89 146.00,720.76 146.12,718.13 146.25,714.95 146.38,717.79 146.50,718.94 146.62,720.43 146.75,717.95 146.88,719.72 147.00,713.70 147.12,715.83 147.25,714.50 147.38,713.01 147.50,715.36 147.60,713.12 147.62,714.26 147.75,716.41 147.88,720.07 148.00,719.23 148.12,717.57 148.20,720.13 148.25,719.98 148.38,722.21 148.50,722.53 148.62,721.49 148.75,722.18 148.88,719.37 149.00,716.88 149.12,718.33 149.25,719.88 149.38,720.67 149.50,720.44 149.62,719.31 149.75,718.30 149.88,717.38 150.00,721.49 150.12,721.82 150.25,719.32 150.38,713.76 150.50,717.89 150.62,716.68 150.75,716.92 150.88,709.71 151.00,711.79 151.12,708.42 151.25,702.08 151.38,708.04 151.40,700.86 151.50,712.96 151.62,703.24 151.75,711.43 151.88,709.05 152.00,717.40 152.12,714.94 152.25,717.81 152.38,717.28 152.50,716.10 152.62,715.53 152.75,715.76 152.88,714.88 153.00,715.98 153.12,713.83 153.25,716.50 153.38,714.95 153.50,713.48 153.62,712.64 153.75,714.88 153.88,711.81 154.00,713.33 154.12,710.48 154.25,712.56 154.38,711.31 154.50,705.96 154.62,686.64 154.75,699.55 154.88,691.56 155.00,680.79 155.12,681.51 155.25,686.49 155.30,670.03 155.38,690.16 155.50,684.93 155.62,687.23 155.75,693.11 155.88,688.16 156.00,694.89 156.12,699.28 156.20,700.95 156.25,702.47 156.38,702.07 156.50,700.24 156.62,701.05 156.75,697.39 156.88,700.22 157.00,701.15 157.12,700.42 157.25,692.89 157.38,690.95 157.50,691.06 157.62,682.45 157.75,680.97 157.88,655.86 158.00,684.63 158.12,624.58 158.25,684.55 158.38,627.08 158.50,665.68 158.60,623.56 158.62,646.89 158.75,629.37 158.88,624.22 159.00,623.33 159.12,624.13 159.25,623.84 159.38,664.09 159.40,624.82 159.50,645.52 159.62,673.19 159.75,658.67 159.88,672.68 159.95,673.23 160.00,679.87 160.12,666.50 160.25,686.98 160.38,676.24 160.40,680.04 160.50,679.75 160.62,688.43 160.75,703.62 160.88,703.39 161.00,693.65 161.12,681.45 161.25,699.29 161.38,696.01 161.50,699.83 161.62,698.61 161.75,701.40 161.88,700.41 162.00,698.84 162.12,700.31 162.25,700.48 162.38,700.46 162.50,703.55 162.62,704.45 162.75,701.69 162.88,699.68 163.00,702.58 163.12,707.50 163.25,701.80 163.38,696.86 163.50,701.85 163.62,702.95 163.75,700.90 163.88,706.13 164.00,704.99 164.12,703.61 164.25,710.71 164.38,706.24 164.50,710.75 164.62,708.42 164.75,715.47 164.88,717.43 165.00,718.56 165.12,720.93 165.25,720.67 165.38,718.31 165.50,717.30 165.62,722.32 165.75,722.80 165.88,721.42 166.00,719.35 166.12,717.56 166.25,721.78 166.38,718.99 166.50,716.44 166.62,715.53 166.75,715.71 166.88,717.25 167.00,716.52 167.12,721.72 167.25,717.81 167.38,717.61 167.50,719.85 167.62,722.73 167.75,718.54 167.88,722.07 168.00,718.48 168.12,721.50 168.25,722.92 168.38,723.58 168.50,722.82 168.62,717.51 168.75,718.21 168.88,719.36 169.00,723.02 169.12,711.61 169.25,708.99 169.38,700.36 169.50,700.36 169.62,701.10 169.75,655.09 169.88,693.64 170.00,687.91 170.12,692.14 170.25,652.51 170.38,607.45 170.40,597.12 170.50,634.56 170.62,639.14 170.75,641.23 170.88,637.51 171.00,640.96 171.12,649.66 171.25,656.67 171.38,656.87 171.50,656.70 171.62,663.84 171.75,666.66 171.88,669.36 172.00,674.66 172.12,672.50 172.25,677.31 172.38,677.82 172.50,678.36 172.62,679.33 172.75,673.97 172.80,678.64 172.88,689.52 173.00,692.08 173.12,688.50 173.25,686.49 173.38,691.07 173.50,698.27 173.62,695.95 173.75,697.70 173.88,699.45 174.00,701.92 174.12,699.08 174.25,702.36 174.38,701.18 174.50,705.41 174.62,704.79 174.75,705.25 174.88,703.41 175.00,704.38 175.12,700.92 175.25,705.31 175.38,704.73 175.50,700.60 175.62,699.19 175.75,697.19 175.88,702.29 176.00,701.17 176.12,701.31 176.25,700.33 176.38,692.01 176.50,698.72 176.62,688.08 176.75,689.22 176.80,687.53 176.88,689.25 177.00,691.04 177.12,690.30 177.25,693.92 177.38,691.47 177.50,694.35 177.62,698.49 177.75,697.88 177.88,696.00 178.00,694.46 178.12,694.39 178.25,697.01 178.30,697.67 178.38,695.85 178.50,697.32 178.62,695.59 178.75,695.85 178.88,695.39 179.00,694.13 179.12,693.90 179.25,694.81 179.38,694.50 179.50,693.99 179.62,695.87 179.75,693.61 179.88,695.22 180.00,691.78 180.12,692.16 180.25,693.28 180.38,692.84 180.50,694.08 180.62,694.02 180.75,694.16 180.88,697.86 181.00,696.77 181.12,701.96 181.25,704.63 181.38,705.84 181.50,702.16 181.62,706.18 181.75,706.91 181.88,707.15 182.00,706.50 182.12,707.33 182.25,707.68 182.38,707.93 182.50,710.76 182.62,706.95 182.70,709.15 182.75,713.28 182.88,707.65 183.00,705.81 183.12,706.06 183.25,712.45 183.38,714.28 183.50,713.77 183.62,715.17 183.75,717.06 183.88,716.55 184.00,719.31 184.12,717.86 184.25,715.76 184.38,717.91 184.50,717.61 184.62,714.24 184.75,719.26 184.88,717.45 185.00,714.57 185.12,710.83 185.25,715.31 185.38,714.01 185.50,707.87 185.62,703.82 185.75,710.51 185.88,702.44 186.00,706.37 186.12,696.45 186.25,701.71 186.38,703.27 186.40,686.33 186.50,691.86 186.62,696.39 186.75,700.76 186.88,697.58 187.00,704.75 187.12,713.66 187.20,713.02 187.25,713.44 187.38,714.63 187.50,715.74 187.62,719.89 187.75,719.41 187.88,719.87 188.00,719.39 188.10,719.37 188.12,715.54 188.25,719.63 188.38,716.30 188.50,718.85 188.62,718.33 188.75,719.29 188.88,719.32 189.00,715.24 189.12,719.38 189.25,714.06 189.38,714.72 189.50,719.80 189.62,719.52 189.75,719.66 189.88,717.87 190.00,717.54 190.12,716.86 190.25,719.77 190.38,718.49 190.50,716.16 190.62,712.66 190.75,711.68 190.88,712.00 191.00,713.25 191.12,714.50 191.25,707.27 191.38,701.65 191.50,706.80 191.60,696.00 191.62,701.84 191.75,700.25 191.88,706.46 192.00,707.77 192.12,700.92 192.25,704.96 192.38,708.65 192.50,710.48 192.62,708.97 192.75,714.68 192.88,714.70 193.00,711.39 193.12,708.93 193.25,712.38 193.38,711.53 193.50,711.85 193.60,709.15 193.62,711.21 193.75,709.30 193.88,709.33 194.00,714.69 194.12,711.34 194.25,717.27 194.38,714.15 194.50,717.11 194.62,717.87 194.75,717.17 194.88,712.56 195.00,716.81 195.12,718.84 195.25,719.87 195.38,720.64 195.50,721.32 195.62,721.02 195.75,721.91 195.88,717.84 196.00,721.02 196.12,724.15 196.25,721.73 196.38,724.58 196.50,721.24 196.62,724.22 196.75,723.93 196.88,724.26 196.90,724.60 197.00,722.47 197.12,724.67 197.25,724.15 197.38,724.80 197.50,724.57 197.62,722.30 197.75,723.72 197.88,722.57 198.00,724.17 198.12,724.20 198.25,724.16 198.38,724.50 198.50,724.64 198.62,724.65 198.75,724.59 198.88,721.97 199.00,722.91 199.12,723.28 199.25,720.01 199.38,718.02 199.50,711.41 199.62,711.31 199.75,722.58 199.88,712.91 200.00,695.96 200.12,697.19 200.20,691.41 200.25,698.08 200.38,691.46 200.50,704.57 200.62,705.80 200.75,703.01 200.88,710.46 201.00,709.70 201.12,711.11 201.25,710.92 201.38,713.90 201.50,710.93 201.62,711.59 201.75,713.82 201.88,713.32 202.00,712.56 202.12,712.49 202.25,709.18 202.30,713.29 202.38,714.31 202.50,714.06 202.62,713.57 202.75,710.00 202.88,711.98 203.00,710.61 203.12,706.25 203.25,708.42 203.38,703.44 203.50,699.79 203.62,701.95 203.75,706.84 203.88,703.26 204.00,700.70 204.12,700.55 204.25,695.42 204.38,697.28 204.50,695.39 204.62,697.58 204.75,697.03 204.88,696.72 205.00,696.19 205.12,698.34 205.25,704.30 205.38,703.82 205.50,709.20 205.62,706.40 205.70,705.17 205.75,706.97 205.88,701.44 206.00,688.49 206.12,706.02 206.25,700.71 206.38,683.02 206.50,677.68 206.62,689.38 206.75,689.91 206.88,698.07 207.00,697.84 207.12,699.77 207.25,696.57 207.30,700.49 207.38,699.26 207.50,701.94 207.62,702.76 207.75,700.99 207.88,702.48 208.00,700.51 208.12,705.34 208.25,705.12 208.38,704.72 208.50,704.64 208.62,703.27 208.75,706.10 208.88,703.74 209.00,704.58 209.12,703.58 209.25,702.51 209.38,701.54 209.50,700.09 209.62,695.64 209.75,697.72 209.88,695.03 210.00,691.28 210.12,698.14 210.25,700.58 210.38,707.68 210.50,706.06 210.60,706.40 210.62,711.74 210.75,708.68 210.88,706.24 211.00,697.57 211.12,696.76 211.25,699.71 211.30,685.87 211.38,705.68 211.50,699.72 211.62,699.16 211.75,707.25 211.88,707.53 212.00,705.61 212.12,705.91 212.20,706.57 212.25,706.64 212.38,722.43 212.50,716.75 212.62,717.87 212.75,719.87 212.88,719.99 213.00,723.57 213.12,720.22 213.25,721.83 213.30,721.35 213.38,719.84 213.50,725.11 213.62,725.68 213.75,725.98 213.88,726.01 214.00,724.33 214.12,726.72 214.25,727.17 214.38,726.31 214.50,725.13 214.62,726.49 214.75,726.41 214.88,727.07 215.00,726.79 215.12,721.42 215.25,725.17 215.38,727.18 215.50,725.87 215.62,719.01 215.75,721.18 215.88,721.27 216.00,721.06 216.12,725.53 216.25,723.72 216.38,725.72 216.50,711.26 216.62,711.92 216.75,708.72 216.88,704.75 217.00,703.59 217.12,709.25 217.25,702.86 217.38,703.63 217.50,706.35 217.62,704.56 217.75,706.09 217.88,706.85 218.00,705.08 218.12,706.64 218.25,704.88 218.30,704.23 218.38,707.65 218.50,704.23 218.62,711.24 218.75,712.83 218.88,709.35 219.00,711.66 219.12,712.13 219.25,711.63 219.38,714.11 219.50,712.71 219.62,712.50 219.75,718.95 219.88,720.91 220.00,722.40 220.12,720.56 220.25,720.30 220.38,722.36 220.50,722.47 220.62,722.44 220.75,718.82 220.88,722.29 221.00,722.09 221.12,722.17 221.25,720.50 221.38,722.28 221.50,716.94 221.62,720.15 221.75,719.29 221.88,722.31 222.00,720.82 222.12,722.51 222.25,716.16 222.38,721.34 222.50,718.17 222.62,717.96 222.75,718.66 222.88,717.64 223.00,716.28 223.12,717.31 223.25,716.83 223.38,715.45 223.50,718.79 223.62,717.36 223.75,715.42 223.80,714.01 223.88,718.04 224.00,714.46 224.12,713.71 224.25,714.82 224.38,717.94 224.50,714.35 224.62,715.11 224.75,710.06 224.88,711.10 225.00,716.17 225.12,710.95 225.25,713.05 225.38,720.31 225.50,721.83 225.62,719.40 225.75,718.71 225.88,720.44 226.00,718.28 226.12,723.96 226.25,719.89 226.38,727.24 226.40,721.01 226.50,726.90 226.62,727.12 226.75,727.33 226.88,731.80 227.00,731.85 227.12,730.63 227.25,732.09 227.38,728.94 227.50,731.95 227.62,732.23 227.75,732.16 227.88,731.96 228.00,732.09 228.12,731.43 228.25,732.07 228.38,731.65 228.50,731.50 228.62,728.94 228.75,732.00 228.88,729.74 229.00,732.29 229.12,732.11 229.25,731.88 229.38,731.98 229.50,731.72 229.62,732.05 229.70,732.27 229.75,732.44 229.88,732.13 230.00,729.62 230.12,729.05 230.25,730.27 230.38,729.15 230.50,732.14 230.62,722.07 230.75,724.75 230.88,725.39 231.00,728.24 231.12,727.16 231.25,726.53 231.38,727.14 231.50,728.56 231.62,725.09 231.75,726.53 231.88,727.60 232.00,723.90 232.12,729.56 232.25,725.58 232.38,726.05 232.50,721.68 232.62,723.65 232.75,720.67 232.88,726.33 233.00,725.03 233.12,727.98 233.25,720.71 233.38,726.16 233.50,724.94 233.62,729.05 233.75,724.65 233.88,723.35 234.00,726.19 234.12,723.16 234.25,725.36 234.38,726.90 234.50,724.23 234.62,727.55 234.75,728.02 234.88,728.00 235.00,727.85 235.12,725.47 235.25,727.48 235.38,723.69 235.50,720.44 235.62,721.08 235.75,716.67 235.88,718.66 236.00,700.40 236.10,701.03 236.12,713.06 236.25,718.89 236.38,689.26 236.50,698.50 236.60,689.36 236.62,695.88 236.75,690.25 236.88,697.36 237.00,699.84 237.12,697.96 237.25,698.50 237.30,700.33 237.38,710.55 237.50,707.72 237.62,718.71 237.75,709.11 237.88,723.91 238.00,720.65 238.12,723.99 238.25,722.93 238.38,727.88 238.50,725.34 238.62,724.77 238.75,726.36 238.88,726.20 239.00,723.89 239.12,722.68 239.25,721.59 239.38,727.38 239.50,725.39 239.62,722.60 239.75,727.17 239.88,722.87 240.00,724.99 240.12,724.55 240.25,722.06 240.38,723.52 240.50,727.94 240.62,728.28 240.75,714.87 240.88,716.31 240.90,709.19 241.00,713.09 241.12,719.01 241.25,720.85 241.38,717.51 241.50,718.17 241.62,722.57 241.75,720.64 241.88,720.80 242.00,722.53 242.12,726.39 242.25,722.99 242.38,723.04 242.50,725.16 242.62,726.82 242.75,726.03 242.88,728.53 243.00,725.09 243.10,728.67 243.12,727.83 243.25,726.92 243.38,725.72 243.50,728.90 243.62,725.71 243.75,729.64 243.88,725.83 244.00,724.13 244.12,729.33 244.25,726.17 244.38,724.63 244.50,725.22 244.62,720.20 244.75,722.13 244.88,722.40 244.90,717.45 245.00,715.56 245.12,720.96 245.25,721.81 245.38,722.51 245.50,722.33 245.62,720.56 245.75,723.39 245.88,728.77 246.00,723.67 246.12,722.64 246.25,726.75 246.38,730.37 246.50,728.78 246.62,730.92 246.75,730.64 246.88,729.74 247.00,731.07 247.12,731.09 247.25,731.16 247.38,730.87 247.50,731.26 247.62,729.22 247.75,730.63 247.88,728.79 248.00,731.14 248.12,729.68 248.25,731.06 248.38,728.52 248.50,730.29 248.62,730.87 248.75,731.04 248.88,727.90 249.00,724.25 249.12,722.64 249.25,720.48 249.38,719.34 249.50,724.99 249.62,725.88 249.75,724.90 249.88,721.74 250.00,711.40 250.12,723.64 250.25,711.83 250.38,720.91 250.50,721.29 250.62,719.43 250.75,715.67 250.80,714.20 250.88,712.70 251.00,713.85 251.12,715.34 251.25,716.26 251.38,716.83 251.50,720.70 251.62,717.05 251.75,717.73 251.88,715.43 252.00,718.63 252.12,719.89 252.25,721.40 252.38,718.67 252.50,717.59 252.62,722.98 252.75,719.35 252.88,720.58 253.00,721.59 253.12,719.84 253.25,719.51 253.38,722.84 253.50,725.77 253.62,724.62 253.75,725.41 253.88,725.88 254.00,726.03 254.12,730.38 254.25,725.10 254.38,728.15 254.50,727.39 254.62,730.55 254.75,731.26 254.88,727.51 255.00,732.12 255.12,727.99 255.25,732.35 255.38,731.85 255.50,732.33 255.62,732.39 255.75,732.95 255.88,732.35 256.00,730.78 256.12,731.92 256.25,731.05 256.30,730.54 256.38,732.72 256.50,729.75 256.62,732.64 256.75,732.43 256.88,731.26 257.00,734.03 257.12,730.73 257.25,729.98 257.38,725.97 257.50,729.81 257.62,730.73 257.75,728.43 257.88,729.17 258.00,727.63 258.12,730.79 258.25,723.02 258.38,723.82 258.50,724.64 258.62,724.70 258.75,729.01 258.88,730.33 259.00,731.41 259.12,730.55 259.25,729.81 259.38,731.23 259.50,731.51 259.62,727.14 259.75,733.50 259.88,732.11 260.00,729.22 260.12,734.13 260.25,733.85 260.38,731.30 260.50,735.32 260.62,735.72 260.75,734.99 260.88,733.09 261.00,735.35 261.12,733.08 261.25,732.41 261.38,735.62 261.50,731.08 261.62,731.79 261.75,734.90 261.88,732.41 262.00,735.00 262.12,735.08 262.25,735.35 262.38,735.45 262.50,734.88 262.62,733.29 262.75,735.46 262.80,734.89 262.88,735.69 263.00,735.23 263.12,735.10 263.25,733.39 263.38,735.32 263.50,733.45 263.62,732.53 263.75,735.23 263.88,730.90 264.00,732.58 264.12,734.94 264.25,724.08 264.38,723.09 264.50,723.13 264.62,715.88 264.75,721.19 264.88,727.92 265.00,723.74 265.12,721.61 265.25,723.35 265.38,725.09 265.50,724.54 265.62,724.28 265.75,722.59 265.88,727.48 266.00,719.01 266.12,719.85 266.25,715.58 266.38,722.44 266.50,718.70 266.62,720.36 266.75,714.37 266.80,715.05 266.88,715.46 267.00,713.08 267.12,714.56 267.25,711.21 267.38,715.85 267.50,711.30 267.62,706.02 267.75,704.92 267.88,712.77 268.00,709.95 268.12,702.24 268.25,711.74 268.30,705.14 268.38,705.22 268.50,707.37 268.62,712.55 268.75,708.81 268.88,711.98 269.00,714.52 269.12,715.57 269.25,715.45 269.38,713.32 269.50,715.22 269.62,717.38 269.75,721.22 269.88,718.74 270.00,726.13 270.12,726.52 270.25,724.64 270.38,724.31 270.50,725.84 270.62,722.38 270.75,724.13 270.88,725.85 271.00,724.23 271.12,723.51 271.25,717.42 271.38,722.87 271.50,719.26 271.62,717.20 271.75,701.95 271.88,707.66 272.00,697.62 272.12,708.31 272.20,700.92 272.25,704.18 272.38,701.46 272.50,707.92 272.62,705.96 272.75,707.54 272.88,713.98 273.00,713.21 273.12,715.07 273.25,713.53 273.38,717.21 273.50,717.83 273.62,720.87 273.75,717.63 273.88,727.00 274.00,727.01 274.12,724.39 274.25,727.63 274.38,727.27 274.50,726.94 274.62,725.95 274.75,727.60 274.80,727.38 274.88,727.51 275.00,727.22 275.12,727.68 275.25,727.31 275.38,727.30 275.50,722.77 275.62,721.97 275.75,724.58 275.88,726.74 276.00,726.59 276.12,719.62 276.25,720.61 276.38,719.30 276.50,715.03 276.62,715.10 276.75,721.80 276.88,715.33 277.00,709.39 277.12,709.35 277.25,708.19 277.38,704.05 277.50,708.99 277.62,706.58 277.75,707.50 277.88,710.72 278.00,705.75 278.12,703.94 278.25,702.38 278.38,701.94 278.50,698.90 278.60,696.79 278.62,700.11 278.75,700.30 278.88,699.70 279.00,701.18 279.12,698.84 279.25,698.66 279.38,702.60 279.50,702.94 279.62,700.62 279.75,700.86 279.80,703.59 279.88,702.40 280.00,704.15 280.12,703.17 280.25,703.07 280.38,700.30 280.50,701.62 280.62,700.91 280.75,699.70 280.88,701.02 281.00,700.66 281.12,701.41 281.25,702.34 281.38,697.94 281.40,699.04 281.50,699.82 281.62,705.69 281.75,707.03 281.88,701.89 282.00,706.33 282.12,708.74 282.25,711.02 282.38,710.11 282.50,707.41 282.62,712.80 282.75,708.05 282.88,713.44 283.00,712.88 283.12,715.45 283.25,713.68 283.38,714.93 283.50,716.89 283.60,715.08 283.62,717.97 283.75,715.28 283.88,715.95 284.00,716.20 284.12,713.66 284.25,712.57 284.38,711.33 284.50,712.70 284.62,710.54 284.75,711.30 284.88,709.31 285.00,709.47 285.12,711.32 285.25,709.43 285.38,709.24 285.50,712.08 285.62,711.93 285.75,716.79 285.80,709.99 285.88,712.48 286.00,711.25 286.12,714.69 286.25,712.26 286.38,711.71 286.50,715.34 286.62,720.42 286.75,720.09 286.88,720.10 287.00,716.10 287.12,718.12 287.25,720.49 287.38,720.11 287.50,720.12 287.62,720.58 287.75,720.04 287.88,720.18 288.00,719.93 288.12,720.18 288.25,720.07 288.38,720.01 288.50,720.57 288.62,719.81 288.75,719.98 288.88,718.80 289.00,719.81 289.12,719.82 289.25,719.65 289.38,718.99 289.50,718.23 289.62,718.54 289.75,717.28 289.88,715.56 290.00,715.19 290.12,716.08 290.20,714.03 290.25,716.87 290.38,714.99 290.50,712.39 290.62,712.52 290.75,712.31 290.88,713.86 291.00,713.09 291.12,712.68 291.25,712.30 291.38,713.08 291.50,713.23 291.62,711.51 291.75,710.56 291.88,713.96 292.00,712.32 292.12,711.34 292.25,711.48 292.38,710.52 292.50,703.41 292.62,706.30 292.75,707.89 292.88,712.58 293.00,710.47 293.12,709.36 293.25,710.45 293.38,709.81 293.40,708.19 293.50,705.53 293.62,717.68 293.75,712.32 293.88,709.06 294.00,706.44 294.12,713.06 294.25,715.44 294.38,716.63 294.50,720.83 294.62,716.68 294.75,712.73 294.88,717.53 295.00,721.86 295.12,720.01 295.25,720.15 295.38,722.71 295.50,720.34 295.60,720.34 295.62,721.33 295.75,719.91 295.88,720.78 296.00,720.90 296.12,720.94 296.25,725.23 296.38,722.91 296.50,727.18 296.62,724.31 296.75,728.81 296.88,725.83 297.00,728.93 297.12,723.07 297.25,726.08 297.38,728.20 297.50,726.68 297.62,728.01 297.75,726.18 297.88,727.11 298.00,726.68 298.12,728.64 298.25,728.46 298.38,727.58 298.50,728.43 298.62,728.84 298.75,725.74 298.88,728.66 298.90,728.50 299.00,728.77 299.12,726.89 299.25,727.25 299.38,725.64 299.50,726.60 299.62,724.44 299.75,722.09 299.88,722.83 300.00,725.38 300.12,725.20 300.25,726.54 300.38,724.86 300.50,724.63 300.62,719.27 300.75,722.72 300.88,726.92 301.00,722.97 301.12,708.99 301.25,706.70 301.38,708.92 301.50,706.71 301.62,723.47 301.75,713.29 301.88,720.77 302.00,719.42 302.12,718.76 302.25,722.09 302.38,723.59 302.50,722.50 302.62,721.87 302.75,726.01 302.88,722.44 303.00,726.71 303.12,729.63 303.25,730.53 303.38,731.01 303.50,729.36 303.62,727.06 303.75,730.69 303.88,730.73 304.00,730.23 304.12,730.41 304.25,729.29 304.38,730.48 304.40,730.57 304.50,730.94 304.62,731.07 304.75,730.24 304.88,730.41 305.00,730.47 305.12,727.67 305.25,729.28 305.38,725.63 305.50,725.82 305.62,726.55 305.75,730.37 305.88,729.23 306.00,727.96 306.12,725.70 306.25,727.81 306.38,723.43 306.50,721.22 306.62,728.76 306.75,717.59 306.88,721.91 307.00,717.27 307.12,720.61 307.25,721.85 307.38,719.99 307.50,726.49 307.62,718.72 307.75,720.98 307.88,724.25 308.00,727.11 308.12,727.27 308.25,728.78 308.38,725.13 308.50,727.92 308.62,728.15 308.75,727.16 308.88,726.60 309.00,730.83 309.12,725.41 309.25,730.70 309.38,730.01 309.50,730.76 309.62,727.89 309.75,730.50 309.80,729.96 309.88,730.15 310.00,730.08 310.12,730.28 310.25,730.10 310.38,727.57 310.50,730.83 310.62,730.14 310.75,728.04 310.88,730.80 311.00,730.66 311.12,724.90 311.25,728.11 311.38,726.33 311.50,728.55 311.62,730.42 311.75,722.67 311.88,722.06 312.00,723.35 312.12,724.71 312.25,723.43 312.38,721.91 312.50,722.91 312.62,710.94 312.75,714.62 312.88,718.92 313.00,719.31 313.10,710.90 313.12,719.48 313.25,713.30 313.38,711.36 313.50,721.40 313.62,722.42 313.75,722.03 313.88,719.45 314.00,722.39 314.12,730.27 314.25,724.84 314.38,727.53 314.50,730.65 314.62,728.71 314.75,729.92 314.88,728.23 315.00,727.73 315.12,730.61 315.25,728.74 315.30,730.18 315.38,729.99 315.50,729.65 315.62,730.14 315.75,730.12 315.88,728.78 316.00,730.48 316.12,730.08 316.25,728.63 316.38,725.26 316.50,727.60 316.62,727.61 316.75,725.26 316.88,721.42 317.00,726.27 317.12,720.81 317.25,727.30 317.38,726.12 317.50,723.80 317.62,725.33 317.75,717.67 317.88,721.73 318.00,722.15 318.12,725.04 318.25,717.92 318.38,719.09 318.50,719.47 318.60,717.02 318.62,715.37 318.75,722.99 318.88,717.83 319.00,714.82 319.12,717.60 319.25,720.48 319.38,718.71 319.50,717.31 319.62,725.28 319.75,729.75 319.88,726.25 320.00,725.15 320.12,727.65 320.25,721.49 320.38,726.04 320.50,724.83 320.62,726.19 320.75,724.38 320.80,726.19 320.88,726.35 321.00,726.56 321.12,723.77 321.25,722.96 321.38,725.99 321.50,725.81 321.62,726.67 321.75,726.60 321.88,723.40 322.00,725.16 322.12,726.13 322.25,723.97 322.38,723.10 322.50,726.30 322.62,726.19 322.75,722.39 322.88,726.58 323.00,726.40 323.12,725.15 323.20,722.44 323.25,724.95 323.38,723.80 323.50,721.36 323.62,726.59 323.75,722.26 323.88,721.36 324.00,721.46 324.12,725.79 324.25,723.34 324.38,720.68 324.50,723.98 324.62,723.23 324.75,722.59 324.88,726.82 325.00,726.72 325.12,725.91 325.25,723.23 325.38,720.45 325.50,724.53 325.62,724.89 325.75,718.05 325.88,726.39 326.00,720.93 326.12,723.13 326.25,722.78 326.38,715.44 326.50,723.93 326.62,720.67 326.75,718.54 326.88,721.36 327.00,722.47 327.12,720.75 327.25,724.95 327.38,722.65 327.50,721.51 327.62,725.79 327.75,722.81 327.88,725.97 328.00,728.17 328.12,728.90 328.25,728.75 328.38,728.94 328.50,725.62 328.62,730.85 328.75,729.05 328.88,728.15 329.00,725.84 329.12,730.38 329.25,729.95 329.38,727.67 329.50,729.67 329.62,724.20 329.70,728.35 329.75,729.61 329.88,732.05 330.00,731.84 330.12,730.76 330.25,729.06 330.38,730.17 330.50,730.01 330.62,730.11 330.75,732.15 330.88,733.09 331.00,733.43 331.12,733.80 331.25,735.15 331.38,735.34 331.50,733.71 331.62,734.98 331.75,730.65 331.88,730.16 332.00,732.07 332.12,735.65 332.25,735.06 332.38,733.59 332.50,735.72 332.62,733.63 332.75,735.21 332.88,735.48 333.00,735.46 333.10,735.33 333.12,735.53 333.25,734.73 333.38,726.93 333.50,731.78 333.62,735.19 333.75,735.00 333.88,734.31 334.00,735.16 334.12,733.68 334.25,735.30 334.38,735.53 334.50,729.97 334.62,729.20 334.75,733.42 334.88,731.22 335.00,734.74 335.12,731.46 335.25,729.72 335.38,732.53 335.50,734.33 335.62,730.34 335.75,728.97 335.88,730.02 336.00,728.70 336.12,728.93 336.25,732.08 336.38,728.44 336.40,731.71 336.50,734.01 336.62,732.51 336.75,726.78 336.88,731.86 337.00,728.95 337.12,729.36 337.25,727.45 337.38,731.50 337.50,726.59 337.62,725.08 337.75,727.35 337.88,728.93 338.00,727.55 338.12,725.22 338.20,727.13 338.25,707.34 338.38,707.45 338.50,714.67 338.60,706.03 338.62,717.04 338.75,702.72 338.88,705.22 339.00,705.33 339.12,703.86 339.25,703.84 339.38,701.45 339.50,701.10 339.62,702.22 339.75,702.15 339.88,701.32 340.00,699.59 340.10,699.32 340.12,699.55 340.25,701.62 340.38,698.26 340.50,700.17 340.62,697.00 340.75,700.62 340.88,698.13 341.00,698.36 341.12,699.34 341.25,698.94 341.38,697.26 341.50,699.66 341.62,700.52 341.75,698.85 341.88,697.51 341.90,699.49 342.00,698.89 342.12,697.99 342.25,702.98 342.38,706.24 342.50,706.49 342.62,710.39 342.75,708.40 342.88,709.68 343.00,709.58 343.12,711.67 343.25,716.34 343.38,715.12 343.50,710.57 343.62,711.23 343.75,716.19 343.88,713.69 344.00,716.03 344.12,717.04 344.25,720.51 344.38,716.42 344.50,721.47 344.62,719.59 344.75,718.35 344.88,721.66 345.00,721.51 345.12,721.61 345.20,719.81 345.25,718.11 345.38,718.18 345.50,719.93 345.62,719.77 345.75,722.37 345.88,721.77 346.00,722.83 346.12,721.61 346.25,722.95 346.38,727.01 346.50,724.10 346.62,725.34 346.75,728.70 346.88,729.90 347.00,728.18 347.12,727.62 347.25,727.41 347.30,727.11 347.38,727.81 347.50,729.50 347.62,729.03 347.75,727.59 347.88,726.71 348.00,728.32 348.12,728.89 348.25,725.74 348.38,729.38 348.50,728.99 348.62,728.13 348.75,728.92 348.88,731.16 349.00,730.91 349.12,729.47 349.25,731.84 349.38,728.32 349.50,729.82 349.62,731.13 349.75,724.69 349.88,726.86 350.00,728.78 350.12,730.03 350.25,730.56 350.38,732.49 350.50,730.30 350.62,733.99 350.75,734.11 350.88,733.60 351.00,731.53 351.12,733.43 351.25,731.91 351.38,729.49 351.50,731.53 351.62,730.35 351.75,732.17 351.88,730.07 352.00,733.24 352.12,732.88 352.25,734.33 352.38,733.18 352.50,731.84 352.62,731.41 352.75,729.64 352.80,733.93 352.88,734.01 353.00,733.60 353.12,732.61 353.25,733.41 353.38,735.80 353.50,733.61 353.62,735.33 353.75,735.06 353.88,735.65 354.00,732.87 354.12,735.37 354.25,733.30 354.38,734.75 354.50,732.82 354.62,733.10 354.75,734.74 354.88,735.48 355.00,732.39 355.12,735.90 355.25,734.44 355.38,736.18 355.50,734.51 355.62,732.50 355.75,733.89 355.88,734.59 356.00,735.66 356.12,734.85 356.25,735.72 356.38,736.05 356.50,734.07 356.62,735.70 356.75,734.86 356.88,733.88 357.00,734.77 357.12,735.53 357.20,735.21 357.25,736.09 357.38,733.58 357.50,732.82 357.62,734.93 357.75,733.92 357.88,731.99 358.00,733.59 358.12,734.60 358.25,732.26 358.38,735.23 358.50,736.26 358.62,734.54 358.75,736.17 358.88,736.26 359.00,735.16 359.12,736.17 359.25,734.51 359.38,733.64 359.50,736.39 359.62,735.82 359.75,734.29 359.88,736.64 360.00,736.18 360.12,736.37 360.25,735.24 360.38,733.34 360.50,733.45 360.62,736.09 360.75,735.95 360.88,735.25 361.00,735.34 361.12,734.93 361.25,735.43 361.38,734.78 361.50,734.51 361.62,736.41 361.75,735.32 361.88,734.10 362.00,734.68 362.12,735.98 362.25,736.18 362.38,735.02 362.50,736.22 362.62,736.61 362.70,735.96 362.75,736.77 362.88,737.02 363.00,737.17 363.12,736.54 363.25,737.34 363.38,735.84 363.50,734.59 363.62,734.96 363.75,735.76 363.88,736.75 364.00,736.80 364.12,736.55 364.25,734.73 364.38,735.89 364.50,735.99 364.62,736.56 364.75,734.17 364.88,735.32 365.00,735.97 365.10,734.33 365.12,736.90 365.25,732.02 365.38,720.67 365.50,718.96 365.62,727.09 365.75,735.22 365.88,736.87 365.90,734.39 366.00,733.45 366.12,736.24 366.25,736.85 366.38,738.63 366.50,736.83 366.62,739.89 366.75,738.79 366.88,739.19 367.00,738.08 367.12,738.65 367.25,737.19 367.38,739.83 367.50,737.45 367.62,738.87 367.75,739.99 367.88,737.87 368.00,739.04 368.12,738.38 368.25,739.05 368.38,737.59 368.50,738.14 368.62,736.55 368.75,739.10 368.88,741.11 369.00,737.65 369.12,740.53 369.25,738.87 369.38,737.75 369.50,738.78 369.62,737.96 369.75,737.84 369.88,740.72 370.00,739.68 370.12,738.89 370.25,738.50 370.38,738.86 370.50,740.65 370.62,740.61 370.75,739.98 370.88,740.78 371.00,739.10 371.12,739.12 371.25,738.86 371.38,740.38 371.50,739.72 371.62,741.11 371.75,740.63 371.88,740.36 372.00,740.58 372.12,740.49 372.25,739.43 372.38,739.55 372.50,740.08 372.62,739.86 372.75,740.86 372.88,740.96 373.00,739.39 373.12,736.94 373.25,738.08 373.38,739.25 373.50,740.02 373.62,739.42 373.75,739.38 373.88,738.95 374.00,739.63 374.12,740.63 374.25,740.18 374.38,740.51 374.50,739.98 374.62,741.23 374.75,739.62 374.88,741.42 375.00,741.78 375.12,741.24 375.25,738.43 375.38,740.41 375.50,737.86 375.62,739.52 375.75,740.17 375.88,741.62 376.00,741.99 376.12,739.81 376.25,738.20 376.38,740.45 376.50,741.59 376.62,738.91 376.75,740.34 376.88,739.25 376.90,739.30 377.00,741.20 377.12,739.23 377.25,738.44 377.38,738.80 377.50,739.42 377.62,739.00 377.75,740.52 377.88,742.45 378.00,737.77 378.12,740.91 378.25,740.85 378.38,739.66 378.50,739.87 378.62,743.02 378.75,742.43 378.88,741.55 379.00,738.98 379.12,738.16 379.25,740.06 379.38,741.12 379.50,740.71 379.62,742.50 379.75,741.73 379.88,742.67 380.00,742.32 380.12,743.04 380.20,742.62 380.25,742.40 380.38,742.70 380.50,742.53 380.62,742.06 380.75,742.42 380.88,738.55 381.00,740.35 381.12,742.44 381.25,739.91 381.38,741.17 381.50,738.18 381.62,738.70 381.75,738.49 381.88,740.22 382.00,738.57 382.12,736.45 382.25,736.43 382.38,736.65 382.40,738.29 382.50,738.95 382.62,733.17 382.75,733.12 382.80,732.34 382.88,730.89 383.00,733.70 383.12,733.16 383.20,739.28 383.25,738.86 383.38,737.28 383.50,741.17 383.62,736.98 383.75,739.70 383.88,737.70 384.00,738.76 384.12,735.79 384.25,736.65 384.38,738.00 384.50,739.09 384.62,741.78 384.75,738.90 384.88,739.02 385.00,740.69 385.12,741.20 385.25,741.45 385.38,739.33 385.50,742.03 385.60,741.52 385.62,738.75 385.75,740.98 385.88,742.40 386.00,741.39 386.12,740.39 386.25,741.90 386.38,741.63 386.50,739.87 386.62,742.00 386.75,742.10 386.88,742.50 387.00,742.54 387.12,741.42 387.25,741.56 387.38,739.22 387.50,739.28 387.62,740.16 387.75,739.83 387.88,741.87 388.00,741.90 388.12,740.93 388.25,741.40 388.38,742.05 388.50,742.41 388.62,740.88 388.75,741.87 388.88,741.05 389.00,738.65 389.12,742.03 389.25,742.37 389.38,742.45 389.50,742.47 389.62,742.38 389.75,742.01 389.88,741.71 390.00,742.39 390.12,742.00 390.25,740.71 390.38,742.35 390.50,741.88 390.62,742.37 390.75,741.93 390.88,742.25 391.00,742.04 391.12,742.43 391.25,742.58 391.38,741.87 391.50,741.91 391.62,740.98 391.75,742.08 391.88,742.09 392.00,739.91 392.12,740.93 392.25,742.28 392.38,741.91 392.50,741.99 392.62,740.44 392.75,742.02 392.88,742.52 393.00,741.97 393.12,742.20 393.25,741.68 393.38,742.30 393.50,740.81 393.62,742.76 393.75,741.92 393.88,741.11 394.00,740.98 394.12,740.80 394.25,744.79 394.38,738.44 394.40,742.09 394.50,742.63 394.62,743.04 394.75,742.87 394.88,742.31 395.00,739.55 395.12,740.93 395.25,738.67 395.38,739.88 395.50,739.43 395.62,733.10 395.75,737.89 395.88,730.57 395.90,714.46 396.00,730.02 396.12,727.40 396.25,735.25 396.30,739.30 396.38,738.63 396.50,735.61 396.62,742.74 396.75,744.14 396.88,743.21 397.00,744.77 397.12,744.33 397.25,744.34 397.38,742.82 397.50,742.86 397.62,744.42 397.75,743.06 397.88,744.89 398.00,743.06 398.10,745.01 398.12,744.81 398.25,743.29 398.38,743.59 398.50,744.81 398.62,744.47 398.75,742.87 398.88,743.88 399.00,744.94 399.12,743.82 399.25,743.65 399.38,744.45 399.50,744.96 399.62,744.29 399.75,742.28 399.88,743.32 400.00,741.53 400.12,742.88 400.25,743.17 400.38,743.26 400.50,742.37 400.62,744.02 400.75,744.81 400.88,741.82 401.00,744.06 401.12,742.03 401.25,744.38 401.38,744.04 401.50,744.69 401.62,743.06 401.75,741.22 401.88,743.54 402.00,742.34 402.12,741.69 402.25,743.14 402.38,741.22 402.50,743.80 402.62,742.42 402.75,744.49 402.88,741.70 403.00,742.84 403.12,743.66 403.25,744.21 403.38,743.56 403.50,741.95 403.62,741.81 403.75,743.04 403.88,741.54 404.00,740.09 404.12,741.88 404.25,741.28 404.38,739.69 404.50,741.60 404.62,742.32 404.75,739.57 404.88,741.30 405.00,742.30 405.12,740.37 405.25,742.68 405.38,742.65 405.50,740.42 405.62,742.60 405.75,742.35 405.88,742.59 406.00,741.53 406.12,742.17 406.25,741.57 406.38,741.59 406.50,741.55 406.62,741.22 406.75,741.99 406.88,741.82 407.00,741.90 407.12,741.66 407.25,741.02 407.38,739.49 407.50,741.56 407.62,740.19 407.75,742.14 407.88,741.29 408.00,741.35 408.12,742.24 408.25,741.71 408.38,742.19 408.50,741.71 408.62,741.57 408.75,738.39 408.88,741.64 409.00,741.98 409.12,739.86 409.25,740.43 409.38,740.68 409.50,741.21 409.62,740.82 409.75,741.69 409.88,739.28 410.00,740.82 410.12,737.47 410.25,741.98 410.38,739.80 410.50,740.85 410.62,741.59 410.75,741.98 410.88,741.78 411.00,741.90 411.12,738.78 411.25,741.19 411.38,741.68 411.50,741.72 411.62,741.81 411.75,741.68 411.88,740.24 412.00,741.69 412.12,741.91 412.25,742.12 412.38,741.52 412.50,742.11 412.62,742.02 412.75,741.31 412.88,741.48 413.00,741.89 413.12,741.92 413.25,740.34 413.38,741.52 413.50,741.62 413.62,742.16 413.75,741.58 413.88,741.47 414.00,741.50 414.12,741.51 414.25,737.19 414.38,737.52 414.50,739.23 414.62,741.11 414.75,740.99 414.88,739.47 415.00,741.37 415.12,740.31 415.25,739.96 415.38,738.77 415.50,738.80 415.62,739.74 415.75,739.71 415.88,740.82 416.00,738.48 416.12,736.80 416.25,735.51 416.38,737.76 416.50,732.94 416.60,732.47 416.62,737.62 416.75,734.60 416.88,738.97 417.00,734.97 417.12,734.89 417.20,737.20 417.25,737.35 417.38,739.74 417.50,739.09 417.62,737.43 417.75,741.23 417.88,739.27 418.00,738.26 418.12,738.07 418.25,742.31 418.38,737.01 418.50,739.70 418.62,736.84 418.75,738.05 418.88,738.12 419.00,740.50 419.12,738.23 419.25,739.44 419.38,736.34 419.50,738.22 419.62,741.39 419.75,742.11 419.80,736.28 419.88,738.25 420.00,739.39 420.12,741.93 420.25,742.94 420.38,741.16 420.50,743.57 420.62,744.19 420.75,743.80 420.88,743.96 420.90,743.64 421.00,744.18 421.12,743.58 421.25,743.82 421.38,744.16 421.50,743.55 421.62,741.55 421.75,743.65 421.88,743.64 422.00,741.45 422.12,743.71 422.25,742.19 422.38,742.05 422.50,743.91 422.62,741.53 422.75,742.65 422.88,742.39 423.00,741.69 423.12,744.07 423.25,743.31 423.38,741.34 423.50,743.91 423.62,743.33 423.75,740.55 423.88,739.44 424.00,743.71 424.12,740.36 424.20,741.45 424.25,741.67 424.38,741.31 424.50,739.80 424.62,741.58 424.75,739.06 424.88,738.29 425.00,741.01 425.12,740.80 425.25,740.35 425.38,739.58 425.50,740.63 425.62,742.14 425.75,740.53 425.88,731.15 425.90,739.05 426.00,737.08 426.12,722.01 426.25,723.35 426.38,729.32 426.40,722.31 426.50,734.28 426.62,725.69 426.75,738.44 426.88,737.11 426.90,738.36 427.00,738.51 427.12,741.39 427.25,738.69 427.38,740.44 427.50,739.43 427.62,740.99 427.75,738.14 427.88,740.92 428.00,742.15 428.12,741.92 428.25,741.76 428.38,741.70 428.50,741.45 428.60,741.74 428.62,741.16 428.75,738.25 428.88,741.44 429.00,741.81 429.12,740.67 429.25,741.03 429.38,739.44 429.50,737.83 429.62,741.54 429.75,738.39 429.88,741.42 430.00,738.07 430.12,741.31 430.25,738.75 430.38,736.64 430.50,737.73 430.62,739.11 430.75,732.39 430.80,736.56 430.88,736.33 431.00,739.35 431.12,737.81 431.25,739.17 431.38,735.52 431.50,735.65 431.62,737.96 431.75,738.82 431.88,738.63 432.00,737.61 432.12,735.89 432.25,736.07 432.38,737.89 432.50,739.24 432.62,735.86 432.75,736.51 432.88,733.78 432.90,735.42 433.00,737.54 433.12,721.56 433.25,710.92 433.38,735.41 433.40,706.42 433.50,716.09 433.62,710.78 433.75,726.49 433.88,718.64 433.90,736.46 434.00,738.03 434.12,737.24 434.25,737.67 434.38,742.23 434.50,741.37 434.62,739.85 434.75,741.71 434.88,741.47 435.00,741.64 435.12,741.39 435.25,741.90 435.38,741.78 435.50,740.77 435.62,735.82 435.75,733.74 435.88,733.49 436.00,733.90 436.12,725.00 436.25,725.24 436.30,725.28 436.38,728.14 436.50,729.14 436.62,725.29 436.75,727.54 436.88,726.53 437.00,727.36 437.12,726.19 437.25,723.76 437.38,729.63 437.50,729.07 437.62,726.11 437.75,732.16 437.88,728.69 438.00,728.29 438.12,738.74 438.25,732.41 438.38,729.65 438.50,738.90 438.62,738.35 438.75,738.51 438.88,740.69 439.00,741.20 439.12,739.35 439.25,740.66 439.38,739.55 439.50,741.72 439.62,741.34 439.75,742.06 439.88,741.60 440.00,739.46 440.12,739.23 440.25,737.74 440.38,740.92 440.50,739.76 440.62,739.71 440.75,737.21 440.88,740.15 441.00,739.89 441.12,736.97 441.25,738.74 441.38,736.34 441.50,737.14 441.62,736.25 441.75,735.69 441.88,738.21 441.90,736.13 442.00,736.64 442.12,736.91 442.25,738.45 442.38,731.34 442.40,706.79 442.50,729.71 442.62,724.56 442.75,710.23 442.88,729.72 442.90,730.54 443.00,727.58 443.12,728.91 443.25,729.44 443.38,731.21 443.50,729.70 443.62,730.50 443.75,732.33 443.88,730.56 444.00,731.12 444.12,733.40 444.25,732.05 444.30,730.89 444.38,730.21 444.50,733.03 444.62,736.06 444.75,736.58 444.88,738.22 445.00,735.10 445.12,738.86 445.25,740.73 445.38,740.94 445.50,741.26 445.62,741.10 445.75,741.13 445.88,741.85 446.00,741.03 446.10,742.19 446.12,739.91 446.25,741.06 446.38,741.15 446.50,741.89 446.62,739.78 446.75,737.08 446.88,741.92 447.00,742.58 447.12,739.85 447.25,738.75 447.38,740.28 447.50,742.05 447.62,737.96 447.75,741.61 447.88,741.75 448.00,739.35 448.12,740.16 448.25,740.72 448.38,740.61 448.50,738.00 448.62,737.67 448.75,738.88 448.88,737.30 449.00,737.90 449.12,739.31 449.25,735.03 449.38,735.74 449.40,737.32 449.50,737.17 449.62,736.51 449.75,738.63 449.88,738.92 450.00,737.25 450.12,737.38 450.25,736.09 450.38,737.68 450.50,737.06 450.62,734.81 450.75,736.15 450.88,736.46 451.00,732.91 451.12,734.92 451.25,729.80 451.38,731.91 451.50,734.72 451.62,732.45 451.75,735.97 451.88,729.24 452.00,729.52 452.12,727.42 452.25,729.14 452.38,728.34 452.50,728.34 452.62,729.35 452.70,725.55 452.75,730.69 452.88,725.97 453.00,730.88 453.12,727.55 453.25,725.29 453.38,730.64 453.50,732.11 453.62,733.24 453.75,730.84 453.88,733.74 454.00,733.44 454.12,733.62 454.25,736.11 454.38,733.67 454.50,738.32 454.62,735.68 454.75,736.35 454.88,736.78 455.00,736.72 455.12,736.04 455.25,737.88 455.38,738.10 455.50,737.92 455.62,737.58 455.75,736.98 455.88,738.22 455.90,737.79 456.00,737.49 456.12,734.67 456.25,734.18 456.38,738.06 456.50,737.51 456.62,735.93 456.75,734.58 456.88,738.46 457.00,736.08 457.12,735.07 457.25,735.64 457.38,737.90 457.50,735.41 457.62,737.17 457.75,733.91 457.88,732.16 458.00,734.05 458.12,733.11 458.25,732.41 458.38,734.19 458.50,734.56 458.62,735.04 458.75,732.23 458.88,731.64 459.00,733.83 459.12,730.94 459.25,729.32 459.38,729.77 459.50,727.54 459.62,726.35 459.75,724.99 459.88,724.29 459.90,724.44 460.00,728.08 460.12,722.66 460.25,726.03 460.38,725.03 460.50,725.97 460.62,725.90 460.75,727.73 460.88,725.97 461.00,725.46 461.12,728.62 461.25,728.02 461.38,730.74 461.50,728.09 461.62,727.68 461.75,730.19 461.88,725.95 462.00,728.13 462.12,727.14 462.25,729.47 462.38,729.93 462.50,730.07 462.62,728.75 462.75,723.65 462.88,728.12 463.00,730.34 463.12,730.03 463.25,728.96 463.38,730.17 463.50,733.15 463.62,733.16 463.75,733.75 463.88,732.54 464.00,734.52 464.12,736.08 464.25,731.45 464.38,732.15 464.50,733.96 464.62,734.35 464.75,733.48 464.88,736.02 465.00,734.64 465.12,736.28 465.25,733.20 465.38,734.87 465.50,735.87 465.62,734.88 465.75,737.15 465.80,735.31 465.88,736.44 466.00,733.98 466.12,737.30 466.25,737.48 466.38,737.17 466.50,737.45 466.62,737.03 466.75,737.74 466.88,739.77 467.00,736.10 467.12,736.26 467.25,738.29 467.38,739.51 467.50,738.57 467.62,737.82 467.75,735.28 467.88,737.59 468.00,737.31 468.12,736.96 468.25,736.50 468.38,734.87 468.50,738.50 468.62,739.09 468.75,738.57 468.88,739.31 469.00,739.22 469.10,739.69 469.12,739.15 469.25,739.44 469.38,738.02 469.50,737.98 469.62,735.93 469.75,739.43 469.88,739.42 470.00,737.22 470.12,739.17 470.25,734.75 470.38,726.13 470.50,735.90 470.62,725.66 470.75,732.87 470.80,728.78 470.88,732.16 471.00,728.60 471.12,732.02 471.25,735.46 471.38,731.15 471.50,739.16 471.62,734.32 471.75,736.49 471.88,739.10 472.00,736.63 472.12,736.61 472.25,735.15 472.38,737.11 472.40,737.36 472.50,738.75 472.62,738.91 472.75,735.24 472.88,734.56 473.00,739.42 473.12,736.11 473.25,736.04 473.38,736.81 473.50,733.89 473.62,733.62 473.75,731.37 473.88,731.57 474.00,730.81 474.10,727.94 474.12,729.80 474.25,737.98 474.38,727.07 474.50,732.15 474.62,736.30 474.75,734.90 474.88,738.42 475.00,736.54 475.12,739.36 475.25,738.24 475.38,738.86 475.50,738.37 475.60,739.58 475.62,739.05 475.75,739.24 475.88,737.28 476.00,738.82 476.12,737.22 476.25,739.57 476.38,737.53 476.50,737.17 476.62,736.79 476.75,737.36 476.88,739.11 477.00,738.79 477.12,740.44 477.25,735.55 477.38,740.00 477.50,737.52 477.62,736.35 477.75,738.82 477.88,737.55 478.00,734.34 478.12,735.97 478.25,736.90 478.38,734.70 478.50,736.52 478.62,737.44 478.75,736.63 478.88,735.14 479.00,735.96 479.12,735.98 479.25,729.84 479.38,721.61 479.50,718.28 479.60,717.40 479.62,721.01 479.75,738.12 479.88,735.84 480.00,729.53 480.12,718.22 480.20,735.34 480.25,737.75 480.38,739.27 480.50,741.08 480.62,745.32 480.75,741.49 480.88,742.87 481.00,736.10 481.10,742.28 481.12,742.52 481.25,743.63 481.38,743.66 481.50,744.50 481.62,744.99 481.75,745.95 481.88,745.38 482.00,745.33 482.12,746.09 482.25,745.11 482.38,746.71 482.50,744.77 482.62,745.06 482.75,747.55 482.88,746.12 483.00,748.05 483.12,745.00 483.25,747.07 483.38,745.38 483.50,747.41 483.62,745.55 483.75,745.88 483.88,748.41 484.00,748.20 484.12,746.96 484.25,745.56 484.38,745.67 484.40,747.15 484.50,747.39 484.62,744.29 484.75,747.69 484.88,747.32 485.00,748.24 485.12,747.30 485.25,748.51 485.38,744.74 485.50,748.50 485.62,747.53 485.75,748.68 485.88,748.70 486.00,748.38 486.12,747.67 486.25,747.98 486.38,748.45 486.50,748.42 486.60,747.83 486.62,747.95 486.75,748.11 486.88,744.59 487.00,748.29 487.12,747.98 487.25,746.57 487.38,746.70 487.50,746.97 487.62,747.60 487.75,748.71 487.88,747.62 488.00,748.51 488.12,746.95 488.25,748.62 488.38,748.21 488.50,744.94 488.62,745.81 488.75,743.50 488.88,746.08 489.00,743.75 489.12,747.97 489.25,746.47 489.38,744.78 489.50,745.43 489.62,743.99 489.75,744.47 489.88,741.04 489.90,743.15 490.00,743.15 490.12,742.97 490.25,745.51 490.38,743.09 490.50,742.50 490.62,745.63 490.75,744.44 490.88,742.72 491.00,742.19 491.12,743.38 491.25,745.93 491.38,741.61 491.50,742.99 491.62,740.50 491.75,740.90 491.88,737.40 492.00,740.01 492.12,741.51 492.25,738.62 492.38,740.61 492.50,736.08 492.62,734.93 492.75,740.71 492.88,732.57 493.00,732.88 493.10,733.44 493.12,731.89 493.25,731.57 493.38,734.21 493.50,734.81 493.62,733.80 493.75,738.55 493.88,733.68 494.00,738.38 494.12,738.95 494.25,741.02 494.38,739.66 494.50,740.78 494.62,740.06 494.75,742.19 494.88,741.22 495.00,739.97 495.12,741.06 495.25,741.12 495.30,740.94 495.38,739.67 495.50,740.43 495.62,739.88 495.75,738.85 495.88,739.82 496.00,740.81 496.12,739.92 496.25,741.24 496.38,736.28 496.50,736.55 496.62,734.36 496.75,733.57 496.88,733.56 497.00,732.37 497.10,732.18 497.12,732.78 497.25,734.41 497.38,736.15 497.50,731.79 497.62,735.74 497.75,741.29 497.88,738.64 498.00,740.48 498.12,740.84 498.25,740.44 498.38,741.35 498.50,741.48 498.60,741.43 498.62,740.01 498.75,741.94 498.88,741.19 499.00,742.47 499.12,741.39 499.25,741.28 499.38,740.19 499.50,741.50 499.62,742.59 499.75,741.47 499.88,737.28 500.00,735.85 500.12,734.87 500.25,736.86 500.38,737.36 500.40,735.15 500.50,723.94 500.62,740.73 500.75,728.60 500.88,735.38 500.90,719.26 501.00,725.19 501.12,738.50 501.25,730.04 501.38,734.83 501.50,736.66 501.62,738.37 501.75,745.11 501.88,744.99 502.00,742.71 502.12,744.25 502.25,743.91 502.38,745.09 502.50,746.27 502.60,745.67 502.62,743.10 502.75,743.82 502.88,745.23 503.00,745.50 503.12,745.83 503.25,745.38 503.38,745.67 503.50,745.95 503.62,745.82 503.75,745.24 503.88,743.27 504.00,744.79 504.12,743.94 504.25,743.61 504.38,745.69 504.50,745.48 504.62,744.59 504.75,746.37 504.88,744.74 505.00,745.31 505.12,744.43 505.25,743.11 505.38,745.51 505.50,744.63 505.62,743.64 505.75,743.34 505.88,742.95 506.00,746.11 506.12,745.23 506.25,744.33 506.38,743.41 506.50,744.52 506.60,744.97 506.62,744.88 506.75,743.34 506.88,745.28 507.00,743.37 507.12,746.16 507.25,744.86 507.38,745.38 507.50,744.32 507.62,743.89 507.75,742.58 507.88,744.94 508.00,743.65 508.12,745.50 508.25,745.19 508.38,743.97 508.50,745.73 508.62,744.57 508.75,739.65 508.88,741.67 509.00,742.30 509.12,742.29 509.25,740.21 509.38,739.84 509.50,743.20 509.62,740.74 509.75,741.72 509.88,741.87 510.00,741.42 510.12,741.50 510.25,742.41 510.38,740.08 510.50,741.77 510.62,742.44 510.75,742.27 510.88,742.01 510.90,739.99 511.00,739.69 511.12,738.75 511.25,739.12 511.38,741.32 511.50,743.06 511.62,741.78 511.75,740.49 511.88,744.18 512.00,743.73 512.12,741.01 512.25,742.13 512.38,741.99 512.50,742.92 512.62,742.85 512.75,743.47 512.88,742.46 513.00,743.29 513.12,743.34 513.25,740.69 513.38,741.22 513.50,742.52 513.62,739.92 513.75,742.73 513.88,741.98 514.00,740.39 514.12,742.64 514.20,741.81 514.25,742.19 514.38,742.55 514.50,742.03 514.62,742.28 514.75,739.36 514.88,741.26 515.00,741.33 515.12,740.70 515.25,736.62 515.38,734.30 515.50,736.83 515.62,732.76 515.75,732.73 515.88,733.07 516.00,733.29 516.12,733.13 516.25,733.28 516.38,731.62 516.50,731.27 516.62,732.47 516.75,731.63 516.88,728.76 517.00,725.14 517.12,725.96 517.25,725.48 517.38,722.36 517.50,722.29 517.62,724.63 517.75,728.11 517.88,720.97 518.00,734.75 518.12,732.23 518.25,739.00 518.38,737.01 518.50,741.06 518.62,741.68 518.75,737.54 518.88,741.87 519.00,741.70 519.12,742.23 519.25,741.82 519.38,741.59 519.50,741.51 519.62,741.96 519.75,740.78 519.88,740.43 520.00,741.70 520.12,741.92 520.25,738.20 520.38,737.08 520.50,735.78 520.62,738.65 520.75,733.32 520.80,730.46 520.88,730.74 521.00,730.54 521.12,736.35 521.25,730.51 521.38,729.12 521.50,727.03 521.62,728.92 521.75,729.95 521.88,729.03 522.00,722.91 522.12,727.07 522.25,725.54 522.38,724.39 522.50,722.35 522.62,725.90 522.75,722.19 522.88,734.74 523.00,732.23 523.12,736.29 523.25,727.26 523.38,731.73 523.50,738.20 523.62,739.86 523.75,741.44 523.88,739.64 524.00,740.76 524.10,740.98 524.12,739.67 524.25,742.10 524.38,741.42 524.50,741.80 524.62,738.72 524.75,740.43 524.88,741.90 525.00,742.12 525.12,742.15 525.25,741.99 525.38,741.30 525.50,741.65 525.62,741.41 525.75,741.86 525.88,742.14 526.00,741.73 526.12,734.64 526.25,740.97 526.38,739.82 526.50,739.49 526.62,738.81 526.75,741.11 526.88,740.98 527.00,738.86 527.12,741.73 527.25,739.38 527.30,741.44 527.38,741.47 527.50,741.51 527.62,740.54 527.75,739.87 527.88,739.83 528.00,741.33 528.12,739.90 528.25,738.83 528.38,738.80 528.50,737.01 528.62,736.65 528.75,736.08 528.88,736.02 529.00,732.60 529.12,735.30 529.25,730.68 529.38,735.66 529.50,732.45 529.62,732.26 529.75,731.62 529.88,729.49 530.00,733.72 530.12,725.02 530.25,729.92 530.38,731.31 530.50,731.78 530.62,732.79 530.75,728.40 530.88,728.98 531.00,729.19 531.12,729.81 531.25,726.16 531.38,725.69 531.50,728.25 531.62,725.90 531.70,725.37 531.75,727.74 531.88,729.69 532.00,728.35 532.12,728.55 532.25,728.39 532.38,727.53 532.50,729.12 532.62,732.14 532.75,727.76 532.88,730.91 533.00,728.40 533.12,731.30 533.25,731.66 533.38,728.05 533.50,729.22 533.62,728.40 533.75,727.16 533.88,729.40 533.90,730.64 534.00,732.29 534.12,732.12 534.25,730.84 534.38,730.24 534.50,731.17 534.62,730.94 534.75,729.53 534.88,731.52 535.00,731.69 535.12,732.07 535.25,729.32 535.38,731.54 535.50,730.84 535.62,728.38 535.70,730.21 535.75,736.21 535.88,735.77 536.00,736.70 536.12,735.75 536.25,734.94 536.38,738.81 536.50,740.34 536.62,739.89 536.75,734.26 536.88,736.98 537.00,741.20 537.12,736.62 537.20,738.01 537.25,737.21 537.38,736.83 537.50,741.59 537.62,740.81 537.75,741.18 537.88,738.94 538.00,743.24 538.12,742.01 538.25,742.97 538.38,740.99 538.50,743.40 538.62,740.17 538.75,743.65 538.88,743.63 539.00,742.61 539.12,744.22 539.25,743.69 539.38,744.15 539.50,740.84 539.62,743.64 539.75,742.63 539.88,743.64 540.00,742.07 540.12,742.42 540.25,742.09 540.38,743.10 540.50,743.24 540.62,743.24 540.75,741.10 540.88,743.86 541.00,742.66 541.12,743.57 541.25,741.55 541.38,742.37 541.50,740.06 541.62,738.18 541.75,743.56 541.88,736.07 542.00,736.15 542.12,739.06 542.25,740.22 542.38,736.56 542.50,736.65 542.62,735.88 542.70,734.26 542.75,736.40 542.88,737.89 543.00,738.65 543.12,734.64 543.25,739.32 543.38,739.52 543.50,740.40 543.62,743.87 543.75,741.31 543.88,742.66 544.00,741.00 544.12,740.94 544.25,740.69 544.38,742.52 544.50,738.95 544.62,739.70 544.75,740.87 544.80,740.70 544.88,743.08 545.00,741.47 545.12,742.40 545.25,740.34 545.38,741.34 545.50,742.68 545.62,743.02 545.75,741.74 545.88,743.21 546.00,746.27 546.12,746.58 546.25,741.71 546.38,746.41 546.50,745.06 546.62,745.26 546.75,745.06 546.88,745.61 547.00,747.11 547.12,745.35 547.25,746.68 547.38,745.62 547.50,744.52 547.62,746.41 547.75,743.64 547.88,743.93 548.00,744.24 548.12,747.19 548.25,747.33 548.38,746.30 548.50,744.48 548.62,746.30 548.75,745.72 548.88,745.48 549.00,741.80 549.12,740.19 549.25,741.89 549.38,743.95 549.50,741.10 549.62,743.07 549.75,742.38 549.88,741.39 550.00,737.86 550.12,737.68 550.25,735.38 550.30,735.87 550.38,739.12 550.50,737.98 550.62,735.99 550.75,738.72 550.88,740.17 551.00,738.18 551.12,741.64 551.25,745.23 551.38,743.46 551.50,742.33 551.62,742.98 551.75,745.26 551.88,743.66 552.00,744.27 552.12,745.95 552.25,744.75 552.38,745.97 552.50,745.89 552.62,744.27 552.75,746.38 552.88,746.38 553.00,746.25 553.12,746.66 553.25,746.67 553.38,744.42 553.50,744.92 553.62,746.28 553.75,746.36 553.88,746.46 554.00,746.83 554.12,746.53 554.25,746.81 554.38,746.95 554.50,746.59 554.62,744.84 554.75,746.34 554.88,746.64 555.00,746.34 555.12,745.45 555.25,744.21 555.38,747.04 555.50,746.91" fill="none" stroke="#ff0000" stroke-width="1"/>
<rect x="61" y="756" width="1" height="5" fill="#0000ff"/>
<rect x="63" y="737" width="1" height="24" fill="#0000ff"/>
<rect x="64" y="711" width="1" height="50" fill="#0000ff"/>
<rect x="88" y="750" width="1" height="11" fill="#0000ff"/>
<rect x="91" y="743" width="1" height="18" fill="#0000ff"/>
<rect x="92" y="632" width="2" height="129" fill="#0000ff"/>
<rect x="94" y="745" width="1" height="16" fill="#0000ff"/>
<rect x="95" y="751" width="1" height="10" fill="#0000ff"/>
<rect x="104" y="703" width="2" height="58" fill="#0000ff"/>
<rect x="108" y="708" width="1" height="53" fill="#0000ff"/>
<rect x="118" y="755" width="1" height="6" fill="#0000ff"/>
<rect x="127" y="683" width="2" height="78" fill="#0000ff"/>
<rect x="129" y="758" width="1" height="3" fill="#0000ff"/>
<rect x="133" y="725" width="1" height="36" fill="#0000ff"/>
<rect x="134" y="731" width="1" height="30" fill="#0000ff"/>
<rect x="135" y="757" width="1" height="4" fill="#0000ff"/>
<rect x="151" y="755" width="1" height="6" fill="#0000ff"/>
<rect x="154" y="745" width="1" height="16" fill="#0000ff"/>
<rect x="155" y="706" width="1" height="55" fill="#0000ff"/>
<rect x="156" y="750" width="1" height="11" fill="#0000ff"/>
<rect x="158" y="651" width="2" height="110" fill="#0000ff"/>
<rect x="160" y="747" width="1" height="14" fill="#0000ff"/>
<rect x="170" y="615" width="2" height="146" fill="#0000ff"/>
<rect x="172" y="752" width="1" height="9" fill="#0000ff"/>
<rect x="176" y="748" width="1" height="13" fill="#0000ff"/>
<rect x="177" y="748" width="1" height="13" fill="#0000ff"/>
<rect x="180" y="758" width="1" height="3" fill="#0000ff"/>
<rect x="183" y="744" width="1" height="17" fill="#0000ff"/>
<rect x="186" y="729" width="1" height="32" fill="#0000ff"/>
<rect x="191" y="752" width="1" height="9" fill="#0000ff"/>
<rect x="200" y="751" width="1" height="10" fill="#0000ff"/>
<rect x="205" y="738" width="1" height="23" fill="#0000ff"/>
<rect x="206" y="717" width="1" height="44" fill="#0000ff"/>
<rect x="208" y="744" width="1" height="17" fill="#0000ff"/>
<rect x="210" y="735" width="1" height="26" fill="#0000ff"/>
<rect x="211" y="734" width="1" height="27" fill="#0000ff"/>
<rect x="217" y="754" width="1" height="7" fill="#0000ff"/>
<rect x="236" y="747" width="1" height="14" fill="#0000ff"/>
<rect x="237" y="754" width="1" height="7" fill="#0000ff"/>
<rect x="339" y="755" width="1" height="6" fill="#0000ff"/>
<rect x="442" y="758" width="1" height="3" fill="#0000ff"/>
<rect x="164" y="759" width="1" height="2" fill="#0000ff"/>
<rect x="216" y="759" width="1" height="2" fill="#0000ff"/>
</g>
<g style="opacity:.999">
<text x="465.50" y="20.75" font-size="14.8" fill="#000000" stroke="#000000" stroke-width="0.5" textLength="89.5" lengthAdjust="spacingAndGlyphs">Lat: <tspan dy="-1.04" textLength="11.8" lengthAdjust="spacingAndGlyphs">-</tspan><tspan dy="1.04">11.14</tspan></text>
<text x="265.75" y="24.50" font-size="11.0" fill="#000000" stroke="#000000" stroke-width="0.5" textLength="74.7" lengthAdjust="spacingAndGlyphs">NAR Longitude</text>
<text x="74.25" y="33.75" font-size="10.0" fill="#000000" stroke="#000000" stroke-width="0.5" textLength="21.5" lengthAdjust="spacingAndGlyphs"><tspan dy="-0.70" textLength="8.0" lengthAdjust="spacingAndGlyphs">-</tspan><tspan dy="0.70">90</tspan></text>
<text x="148.25" y="33.75" font-size="10.0" fill="#000000" stroke="#000000" stroke-width="0.5" textLength="21.5" lengthAdjust="spacingAndGlyphs"><tspan dy="-0.70" textLength="8.0" lengthAdjust="spacingAndGlyphs">-</tspan><tspan dy="0.70">60</tspan></text>
<text x="220.25" y="33.75" font-size="10.0" fill="#000000" stroke="#000000" stroke-width="0.5" textLength="21.5" lengthAdjust="spacingAndGlyphs"><tspan dy="-0.70" textLength="8.0" lengthAdjust="spacingAndGlyphs">-</tspan><tspan dy="0.70">30</tspan></text>
<text x="300.00" y="33.75" font-size="10.0" fill="#000000" stroke="#000000" stroke-width="0.5">0</text>
<text x="369.45" y="33.75" font-size="10.0" fill="#000000" stroke="#000000" stroke-width="0.5" textLength="13.5" lengthAdjust="spacingAndGlyphs">30</text>
<text x="442.45" y="33.75" font-size="10.0" fill="#000000" stroke="#000000" stroke-width="0.5" textLength="13.5" lengthAdjust="spacingAndGlyphs">60</text>
<text x="516.45" y="33.75" font-size="10.0" fill="#000000" stroke="#000000" stroke-width="0.5" textLength="13.5" lengthAdjust="spacingAndGlyphs">90</text>
<text x="102.80" y="57.60" font-size="18.3" fill="#000000" stroke="#000000" stroke-width="0.8"><tspan x="102.8" textLength="36.9" lengthAdjust="spacingAndGlyphs">NAR</tspan> <tspan x="151.6" textLength="61.6" lengthAdjust="spacing">11598</tspan></text>
<text x="41.40" y="227.40" font-size="10.0" fill="#000000" stroke="#000000" stroke-width="0.5">0</text>
<text x="28.20" y="200.63" font-size="10.0" fill="#000000" stroke="#000000" stroke-width="0.5" textLength="19.8" lengthAdjust="spacingAndGlyphs">100</text>
<text x="28.20" y="168.97" font-size="10.0" fill="#000000" stroke="#000000" stroke-width="0.5" textLength="19.8" lengthAdjust="spacingAndGlyphs">200</text>
<text x="28.20" y="137.30" font-size="10.0" fill="#000000" stroke="#000000" stroke-width="0.5" textLength="19.8" lengthAdjust="spacingAndGlyphs">300</text>
<text x="28.20" y="105.63" font-size="10.0" fill="#000000" stroke="#000000" stroke-width="0.5" textLength="19.8" lengthAdjust="spacingAndGlyphs">400</text>
<text x="28.20" y="73.97" font-size="10.0" fill="#000000" stroke="#000000" stroke-width="0.5" textLength="19.8" lengthAdjust="spacingAndGlyphs">500</text>
<text x="28.20" y="45.20" font-size="10.0" fill="#000000" stroke="#000000" stroke-width="0.5" textLength="19.8" lengthAdjust="spacingAndGlyphs">600</text>
<text x="19.20" y="157.30" font-size="11.0" fill="#000000" stroke="#000000" stroke-width="0.5" textLength="48.6" lengthAdjust="spacingAndGlyphs" transform="rotate(-90 19.20 157.30)">NAR Area</text>
<text x="558.70" y="65.65" font-size="10.5" fill="#0000ff" stroke="#0000ff" stroke-width="0.5" textLength="18.0" lengthAdjust="spacingAndGlyphs" font-style="italic">βγδ</text>
<text x="558.70" y="89.40" font-size="10.5" fill="#0000ff" stroke="#0000ff" stroke-width="0.5" textLength="12.0" lengthAdjust="spacingAndGlyphs" font-style="italic">βδ</text>
<text x="558.70" y="113.15" font-size="10.5" fill="#0000ff" stroke="#0000ff" stroke-width="0.5" textLength="12.0" lengthAdjust="spacingAndGlyphs" font-style="italic">βγ</text>
<text x="558.70" y="136.90" font-size="10.5" fill="#0000ff" stroke="#0000ff" stroke-width="0.5" font-style="italic">β</text>
<text x="558.70" y="160.65" font-size="10.5" fill="#0000ff" stroke="#0000ff" stroke-width="0.5" font-style="italic">α</text>
<text x="589.30" y="139.30" font-size="11.0" fill="#0000ff" stroke="#0000ff" stroke-width="0.5" textLength="56.6" lengthAdjust="spacingAndGlyphs" transform="rotate(-90 589.30 139.30)">Mag. Class</text>
<text x="117.30" y="242.60" font-size="10.0" fill="#000000" stroke="#000000" stroke-width="0.5" textLength="32.3" lengthAdjust="spacingAndGlyphs">10/22</text>
<text x="215.30" y="242.60" font-size="10.0" fill="#000000" stroke="#000000" stroke-width="0.5" textLength="32.3" lengthAdjust="spacingAndGlyphs">10/25</text>
<text x="312.30" y="242.60" font-size="10.0" fill="#000000" stroke="#000000" stroke-width="0.5" textLength="32.3" lengthAdjust="spacingAndGlyphs">10/28</text>
<text x="410.30" y="242.60" font-size="10.0" fill="#000000" stroke="#000000" stroke-width="0.5" textLength="32.3" lengthAdjust="spacingAndGlyphs">10/31</text>
<text x="507.30" y="242.60" font-size="10.0" fill="#000000" stroke="#000000" stroke-width="0.5" textLength="32.3" lengthAdjust="spacingAndGlyphs">11/03</text>
<text x="202.60" y="257.00" font-size="11.0" fill="#000000" stroke="#000000" stroke-width="0.5" textLength="199.4" lengthAdjust="spacingAndGlyphs">Start Time: (2012/10/19 11:46)</text>
<text x="48.60" y="494.60" font-size="10.0" fill="#000000" stroke="#000000" stroke-width="0.5" text-anchor="end">B</text>
<text x="48.60" y="447.50" font-size="10.0" fill="#000000" stroke="#000000" stroke-width="0.5" text-anchor="end">C</text>
<text x="48.60" y="396.50" font-size="10.0" fill="#000000" stroke="#000000" stroke-width="0.5" text-anchor="end">M</text>
<text x="48.60" y="345.50" font-size="10.0" fill="#000000" stroke="#000000" stroke-width="0.5" text-anchor="end">X</text>
<text x="27.60" y="294.50" font-size="10.0" fill="#000000" stroke="#000000" stroke-width="0.5" textLength="20.4" lengthAdjust="spacingAndGlyphs">X10</text>
<text x="19.20" y="428.60" font-size="11.0" fill="#000000" stroke="#000000" stroke-width="0.5" textLength="96.6" lengthAdjust="spacingAndGlyphs" transform="rotate(-90 19.20 428.60)">Flare X<tspan dy="-0.77" textLength="8.8" lengthAdjust="spacingAndGlyphs">-</tspan><tspan dy="0.77">ray Class</tspan></text>
<text x="561.20" y="287.00" font-size="9.4" fill="#ff0000" stroke="#ff0000" stroke-width="0.5" textLength="26.2" lengthAdjust="spacingAndGlyphs">CMEs</text>
<text x="575.80" y="449.80" font-size="12.6" fill="#000000" stroke="#000000" stroke-width="0.5" textLength="139.6" lengthAdjust="spacingAndGlyphs" transform="rotate(-90 575.80 449.80)">Flares observed in AR</text>
<text x="117.30" y="508.60" font-size="10.0" fill="#000000" stroke="#000000" stroke-width="0.5" textLength="32.3" lengthAdjust="spacingAndGlyphs">10/22</text>
<text x="215.30" y="508.60" font-size="10.0" fill="#000000" stroke="#000000" stroke-width="0.5" textLength="32.3" lengthAdjust="spacingAndGlyphs">10/25</text>
<text x="312.30" y="508.60" font-size="10.0" fill="#000000" stroke="#000000" stroke-width="0.5" textLength="32.3" lengthAdjust="spacingAndGlyphs">10/28</text>
<text x="410.30" y="508.60" font-size="10.0" fill="#000000" stroke="#000000" stroke-width="0.5" textLength="32.3" lengthAdjust="spacingAndGlyphs">10/31</text>
<text x="507.30" y="508.60" font-size="10.0" fill="#000000" stroke="#000000" stroke-width="0.5" textLength="32.3" lengthAdjust="spacingAndGlyphs">11/03</text>
<text x="202.60" y="523.60" font-size="11.0" fill="#000000" stroke="#000000" stroke-width="0.5" textLength="199.4" lengthAdjust="spacingAndGlyphs">Start Time: (2012/10/19 11:46)</text>
<text x="48.60" y="761.60" font-size="10.0" fill="#000000" stroke="#000000" stroke-width="0.5" text-anchor="end">B</text>
<text x="48.60" y="714.50" font-size="10.0" fill="#000000" stroke="#000000" stroke-width="0.5" text-anchor="end">C</text>
<text x="48.60" y="663.50" font-size="10.0" fill="#000000" stroke="#000000" stroke-width="0.5" text-anchor="end">M</text>
<text x="48.60" y="612.50" font-size="10.0" fill="#000000" stroke="#000000" stroke-width="0.5" text-anchor="end">X</text>
<text x="27.60" y="561.50" font-size="10.0" fill="#000000" stroke="#000000" stroke-width="0.5" textLength="20.4" lengthAdjust="spacingAndGlyphs">X10</text>
<text x="19.20" y="696.00" font-size="11.0" fill="#000000" stroke="#000000" stroke-width="0.5" textLength="97.5" lengthAdjust="spacingAndGlyphs" transform="rotate(-90 19.20 696.00)">GOES X<tspan dy="-0.77" textLength="8.8" lengthAdjust="spacingAndGlyphs">-</tspan><tspan dy="0.77">ray Class</tspan></text>
<text x="117.30" y="775.50" font-size="10.0" fill="#000000" stroke="#000000" stroke-width="0.5" textLength="32.3" lengthAdjust="spacingAndGlyphs">10/22</text>
<text x="215.30" y="775.50" font-size="10.0" fill="#000000" stroke="#000000" stroke-width="0.5" textLength="32.3" lengthAdjust="spacingAndGlyphs">10/25</text>
<text x="312.30" y="775.50" font-size="10.0" fill="#000000" stroke="#000000" stroke-width="0.5" textLength="32.3" lengthAdjust="spacingAndGlyphs">10/28</text>
<text x="410.30" y="775.50" font-size="10.0" fill="#000000" stroke="#000000" stroke-width="0.5" textLength="32.3" lengthAdjust="spacingAndGlyphs">10/31</text>
<text x="507.30" y="775.50" font-size="10.0" fill="#000000" stroke="#000000" stroke-width="0.5" textLength="32.3" lengthAdjust="spacingAndGlyphs">11/03</text>
<text x="480.50" y="790.75" font-size="10.7" fill="#000000" stroke="#000000" stroke-width="0.5" textLength="102.5" lengthAdjust="spacingAndGlyphs">Prepared by HELIO</text>
</g>
</svg>
</body></html>
